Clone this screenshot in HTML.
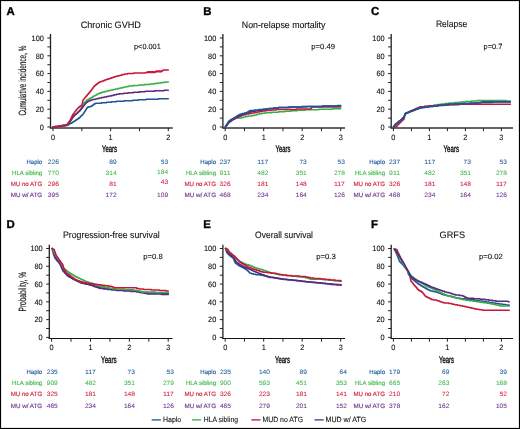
<!DOCTYPE html>
<html><head><meta charset="utf-8"><style>
html,body{margin:0;padding:0;background:#fff;}
svg{display:block;font-family:"Liberation Sans",sans-serif;will-change:transform;text-rendering:geometricPrecision;}
</style></head><body>
<svg width="520" height="429" viewBox="0 0 520 429">
<rect x="0" y="0" width="520" height="429" fill="#fff"/>
<line x1="50.5" y1="34" x2="50.5" y2="128.6" stroke="#222" stroke-width="1.3"/>
<line x1="50.0" y1="128" x2="172.7" y2="128" stroke="#333" stroke-width="1.3"/>
<line x1="47.4" y1="127.00" x2="50.5" y2="127.00" stroke="#222" stroke-width="1"/>
<text x="43.9" y="129.70" font-size="7.8" fill="#111" text-anchor="end" textLength="4.1" lengthAdjust="spacingAndGlyphs" stroke="#111" stroke-width="0.1">0</text>
<line x1="47.4" y1="118.10" x2="50.5" y2="118.10" stroke="#222" stroke-width="1"/>
<line x1="47.4" y1="109.20" x2="50.5" y2="109.20" stroke="#222" stroke-width="1"/>
<text x="43.9" y="111.90" font-size="7.8" fill="#111" text-anchor="end" textLength="8.2" lengthAdjust="spacingAndGlyphs" stroke="#111" stroke-width="0.1">20</text>
<line x1="47.4" y1="100.30" x2="50.5" y2="100.30" stroke="#222" stroke-width="1"/>
<line x1="47.4" y1="91.40" x2="50.5" y2="91.40" stroke="#222" stroke-width="1"/>
<text x="43.9" y="94.10" font-size="7.8" fill="#111" text-anchor="end" textLength="8.2" lengthAdjust="spacingAndGlyphs" stroke="#111" stroke-width="0.1">40</text>
<line x1="47.4" y1="82.50" x2="50.5" y2="82.50" stroke="#222" stroke-width="1"/>
<line x1="47.4" y1="73.60" x2="50.5" y2="73.60" stroke="#222" stroke-width="1"/>
<text x="43.9" y="76.30" font-size="7.8" fill="#111" text-anchor="end" textLength="8.2" lengthAdjust="spacingAndGlyphs" stroke="#111" stroke-width="0.1">60</text>
<line x1="47.4" y1="64.70" x2="50.5" y2="64.70" stroke="#222" stroke-width="1"/>
<line x1="47.4" y1="55.80" x2="50.5" y2="55.80" stroke="#222" stroke-width="1"/>
<text x="43.9" y="58.50" font-size="7.8" fill="#111" text-anchor="end" textLength="8.2" lengthAdjust="spacingAndGlyphs" stroke="#111" stroke-width="0.1">80</text>
<line x1="47.4" y1="46.90" x2="50.5" y2="46.90" stroke="#222" stroke-width="1"/>
<line x1="47.4" y1="38.00" x2="50.5" y2="38.00" stroke="#222" stroke-width="1"/>
<text x="43.9" y="40.70" font-size="7.8" fill="#111" text-anchor="end" textLength="12.3" lengthAdjust="spacingAndGlyphs" stroke="#111" stroke-width="0.1">100</text>
<line x1="53.00" y1="128" x2="53.00" y2="131.2" stroke="#222" stroke-width="1"/>
<line x1="81.83" y1="128" x2="81.83" y2="131.2" stroke="#222" stroke-width="1"/>
<line x1="110.65" y1="128" x2="110.65" y2="131.2" stroke="#222" stroke-width="1"/>
<line x1="139.47" y1="128" x2="139.47" y2="131.2" stroke="#222" stroke-width="1"/>
<line x1="168.30" y1="128" x2="168.30" y2="131.2" stroke="#222" stroke-width="1"/>
<text x="53.00" y="139.90" font-size="7.8" fill="#111" text-anchor="middle" textLength="4.1" lengthAdjust="spacingAndGlyphs" stroke="#111" stroke-width="0.1">0</text>
<text x="110.65" y="139.90" font-size="7.8" fill="#111" text-anchor="middle" textLength="4.1" lengthAdjust="spacingAndGlyphs" stroke="#111" stroke-width="0.1">1</text>
<text x="168.30" y="139.90" font-size="7.8" fill="#111" text-anchor="middle" textLength="4.1" lengthAdjust="spacingAndGlyphs" stroke="#111" stroke-width="0.1">2</text>
<text x="80.65" y="27.6" font-size="9.4" fill="#111" textLength="60.25" lengthAdjust="spacingAndGlyphs" stroke="#111" stroke-width="0.1">Chronic GVHD</text>
<text x="134" y="48.5" font-size="7.5" fill="#111" textLength="26.8" lengthAdjust="spacingAndGlyphs" stroke="#111" stroke-width="0.1">p&lt;0.001</text>
<text x="6.6" y="14.9" font-size="11.4" fill="#000" font-weight="bold" stroke="#000" stroke-width="0.35">A</text>
<text x="102" y="152.4" font-size="9.7" fill="#111" textLength="15" lengthAdjust="spacingAndGlyphs" stroke="#111" stroke-width="0.4">Years</text>
<polyline points="53.00,127.00 57.12,127.00 57.12,126.50 61.62,126.50 61.62,125.97 65.09,125.97 65.09,125.45 67.53,125.45 67.53,124.92 68.54,124.92 68.54,124.34 69.55,124.34 69.55,123.77 70.55,123.77 70.55,123.20 71.56,123.20 71.56,122.63 72.57,122.63 72.57,122.06 73.58,122.06 73.58,121.49 74.41,121.49 74.41,120.93 75.24,120.93 75.24,120.38 76.07,120.38 76.07,119.82 76.89,119.82 76.89,119.27 77.72,119.27 77.72,118.71 78.55,118.71 78.55,118.16 79.37,118.16 79.37,117.54 79.97,117.54 79.97,116.95 80.57,116.95 80.57,116.36 81.18,116.36 81.18,115.77 81.78,115.77 81.78,115.18 82.38,115.18 82.38,114.59 82.98,114.59 82.98,113.99 83.38,113.99 83.38,113.38 83.78,113.38 83.78,112.77 84.18,112.77 84.18,112.16 84.58,112.16 84.58,111.54 84.98,111.54 84.98,110.93 85.38,110.93 85.38,110.32 85.79,110.32 85.79,109.71 86.19,109.71 86.19,109.09 86.59,109.09 86.59,108.48 86.99,108.48 86.99,107.87 87.39,107.87 87.39,107.25 88.59,107.25 88.59,106.71 90.79,106.71 90.79,106.20 92.00,106.20 92.00,105.59 92.81,105.59 92.81,104.98 93.61,104.98 93.61,104.37 94.42,104.37 94.42,103.75 95.64,103.75 95.64,103.24 101.39,103.24 101.39,102.72 106.43,102.72 106.43,102.21 111.45,102.21 111.45,101.69 116.48,101.69 116.48,101.17 124.18,101.17 124.18,100.67 132.67,100.67 132.67,100.16 138.27,100.16 138.27,99.65 145.95,99.65 145.95,99.14 158.45,99.14 158.45,98.64 168.30,98.64" fill="none" stroke="#1c5794" stroke-width="1.5" stroke-linejoin="round" stroke-linecap="round"/>
<polyline points="53.00,127.00 55.06,127.00 55.06,126.50 59.17,126.50 59.17,125.98 62.64,125.98 62.64,125.46 66.10,125.46 66.10,124.94 67.55,124.94 67.55,124.28 67.98,124.28 67.98,123.77 68.40,123.77 68.40,123.26 68.83,123.26 68.83,122.76 69.25,122.76 69.25,122.25 69.68,122.25 69.68,121.74 70.10,121.74 70.10,121.17 70.51,121.17 70.51,120.55 70.92,120.55 70.92,119.93 71.33,119.93 71.33,119.30 71.74,119.30 71.74,118.68 72.15,118.68 72.15,118.05 72.56,118.05 72.56,117.43 72.97,117.43 72.97,116.80 73.38,116.80 73.38,116.18 74.00,116.18 74.00,115.50 74.62,115.50 74.62,114.94 75.24,114.94 75.24,114.39 75.86,114.39 75.86,113.83 76.48,113.83 76.48,113.28 77.10,113.28 77.10,112.72 77.72,112.72 77.72,112.17 78.34,112.17 78.34,111.61 78.97,111.61 78.97,111.06 79.58,111.06 79.58,110.30 79.99,110.30 79.99,109.72 80.40,109.72 80.40,109.14 80.81,109.14 80.81,108.57 81.21,108.57 81.21,107.99 81.62,107.99 81.62,107.41 82.06,107.41 82.06,106.45 82.29,106.45 82.29,105.77 82.52,105.77 82.52,105.09 82.75,105.09 82.75,104.41 82.98,104.41 82.98,103.74 83.60,103.74 83.60,103.13 84.23,103.13 84.23,102.52 84.85,102.52 84.85,101.91 85.48,101.91 85.48,101.30 86.10,101.30 86.10,100.69 86.73,100.69 86.73,100.08 87.74,100.08 87.74,99.50 88.75,99.50 88.75,98.93 89.76,98.93 89.76,98.35 90.77,98.35 90.77,97.77 91.79,97.77 91.79,97.20 92.80,97.20 92.80,96.62 93.81,96.62 93.81,96.04 94.82,96.04 94.82,95.47 95.85,95.47 95.85,94.89 96.87,94.89 96.87,94.31 97.89,94.31 97.89,93.73 98.92,93.73 98.92,93.15 100.72,93.15 100.72,92.62 102.72,92.62 102.72,92.11 104.72,92.11 104.72,91.61 106.72,91.61 106.72,91.10 108.72,91.10 108.72,90.59 110.96,90.59 110.96,90.08 113.19,90.08 113.19,89.58 115.43,89.58 115.43,89.08 117.67,89.08 117.67,88.58 119.91,88.58 119.91,88.07 122.15,88.07 122.15,87.55 124.38,87.55 124.38,87.04 126.62,87.04 126.62,86.52 128.86,86.52 128.86,86.00 133.10,86.00 133.10,85.49 138.73,85.49 138.73,84.97 144.36,84.97 144.36,84.46 150.00,84.46 150.00,83.94 154.02,83.94 154.02,83.42 157.64,83.42 157.64,82.92 161.26,82.92 161.26,82.42 164.88,82.42 164.88,81.91 168.30,81.91" fill="none" stroke="#36ad47" stroke-width="1.5" stroke-linejoin="round" stroke-linecap="round"/>
<polyline points="53.00,127.00 55.06,127.00 55.06,126.50 59.17,126.50 59.17,125.98 62.64,125.98 62.64,125.46 66.10,125.46 66.10,124.94 67.55,124.94 67.55,124.28 67.98,124.28 67.98,123.77 68.40,123.77 68.40,123.26 68.83,123.26 68.83,122.76 69.25,122.76 69.25,122.25 69.68,122.25 69.68,121.74 70.10,121.74 70.10,121.17 70.51,121.17 70.51,120.55 70.92,120.55 70.92,119.93 71.33,119.93 71.33,119.30 71.74,119.30 71.74,118.68 72.15,118.68 72.15,118.05 72.56,118.05 72.56,117.43 72.97,117.43 72.97,116.80 73.38,116.80 73.38,116.18 74.00,116.18 74.00,115.52 74.62,115.52 74.62,114.99 75.24,114.99 75.24,114.47 75.86,114.47 75.86,113.94 76.48,113.94 76.48,113.42 77.10,113.42 77.10,112.89 77.72,112.89 77.72,112.37 78.34,112.37 78.34,111.84 78.97,111.84 78.97,111.32 79.57,111.32 79.57,110.66 80.17,110.66 80.17,109.94 80.78,109.94 80.78,109.22 81.38,109.22 81.38,108.51 81.98,108.51 81.98,107.79 82.58,107.79 82.58,107.07 83.19,107.07 83.19,106.33 83.60,106.33 83.60,105.80 84.02,105.80 84.02,105.28 84.44,105.28 84.44,104.75 84.85,104.75 84.85,104.23 85.27,104.23 85.27,103.70 85.68,103.70 85.68,103.18 86.10,103.18 86.10,102.65 86.52,102.65 86.52,102.13 87.35,102.13 87.35,101.61 88.59,101.61 88.59,101.09 89.83,101.09 89.83,100.57 91.07,100.57 91.07,100.06 92.32,100.06 92.32,99.54 95.03,99.54 95.03,99.01 97.07,99.01 97.07,98.47 99.12,98.47 99.12,97.94 101.55,97.94 101.55,97.43 103.97,97.43 103.97,96.92 106.40,96.92 106.40,96.42 108.83,96.42 108.83,95.91 111.25,95.91 111.25,95.41 113.87,95.41 113.87,94.87 116.48,94.87 116.48,94.33 119.10,94.33 119.10,93.79 123.57,93.79 123.57,93.27 128.05,93.27 128.05,92.77 133.52,92.77 133.52,92.26 139.38,92.26 139.38,91.75 145.24,91.75 145.24,91.25 154.66,91.25 154.66,90.74 164.09,90.74 164.09,90.23 168.30,90.23" fill="none" stroke="#5f2781" stroke-width="1.5" stroke-linejoin="round" stroke-linecap="round"/>
<polyline points="53.00,127.00 55.43,127.00 55.43,126.49 58.14,126.49 58.14,125.98 60.80,125.98 60.80,125.47 63.45,125.47 63.45,124.96 66.10,124.96 66.10,124.45 67.55,124.45 67.55,123.68 67.98,123.68 67.98,123.10 68.40,123.10 68.40,122.52 68.83,122.52 68.83,121.95 69.25,121.95 69.25,121.37 69.68,121.37 69.68,120.79 70.09,120.79 70.09,120.07 70.50,120.07 70.50,119.21 70.90,119.21 70.90,118.34 71.30,118.34 71.30,117.47 71.71,117.47 71.71,116.61 72.11,116.61 72.11,115.74 72.51,115.74 72.51,114.87 72.92,114.87 72.92,114.18 73.34,114.18 73.34,113.67 73.75,113.67 73.75,113.15 74.17,113.15 74.17,112.64 74.58,112.64 74.58,112.12 74.99,112.12 74.99,111.61 75.41,111.61 75.41,111.09 75.82,111.09 75.82,110.58 76.24,110.58 76.24,110.06 76.65,110.06 76.65,109.54 77.07,109.54 77.07,109.03 77.48,109.03 77.48,108.51 77.89,108.51 77.89,108.00 78.31,108.00 78.31,107.48 79.13,107.48 79.13,106.85 79.95,106.85 79.95,106.21 80.77,106.21 80.77,105.58 81.59,105.58 81.59,104.95 82.24,104.95 82.24,103.49 82.49,103.49 82.49,102.35 82.73,102.35 82.73,101.22 82.98,101.22 82.98,100.08 83.39,100.08 83.39,99.55 83.81,99.55 83.81,99.03 84.23,99.03 84.23,98.50 84.64,98.50 84.64,97.98 85.06,97.98 85.06,97.45 85.48,97.45 85.48,96.93 85.89,96.93 85.89,96.40 86.31,96.40 86.31,95.88 86.73,95.88 86.73,95.35 87.33,95.35 87.33,94.62 87.94,94.62 87.94,93.89 88.55,93.89 88.55,93.15 89.16,93.15 89.16,92.42 89.77,92.42 89.77,91.69 90.38,91.69 90.38,90.95 90.99,90.95 90.99,90.22 91.60,90.22 91.60,89.46 92.02,89.46 92.02,88.93 92.43,88.93 92.43,88.39 92.85,88.39 92.85,87.86 93.26,87.86 93.26,87.32 93.68,87.32 93.68,86.79 94.09,86.79 94.09,86.25 94.51,86.25 94.51,85.72 95.31,85.72 95.31,85.10 96.11,85.10 96.11,84.48 96.91,84.48 96.91,83.86 97.72,83.86 97.72,83.24 98.52,83.24 98.52,82.62 99.33,82.62 99.33,82.07 100.77,82.07 100.77,81.51 102.21,81.51 102.21,80.96 103.65,80.96 103.65,80.40 105.09,80.40 105.09,79.86 106.74,79.86 106.74,79.35 108.39,79.35 108.39,78.84 110.03,78.84 110.03,78.33 111.45,78.33 111.45,77.83 112.86,77.83 112.86,77.28 114.26,77.28 114.26,76.74 115.87,76.74 115.87,76.19 117.91,76.19 117.91,75.67 119.94,75.67 119.94,75.15 121.98,75.15 121.98,74.62 124.81,74.62 124.81,74.10 127.65,74.10 127.65,73.59 133.67,73.59 133.67,73.08 145.48,73.08 145.48,72.58 147.37,72.58 147.37,72.07 147.57,72.07 147.57,72.57 147.78,72.57 147.78,72.07 147.98,72.07 147.98,72.57 148.18,72.57 148.18,72.07 148.38,72.07 148.38,72.57 148.58,72.57 148.58,72.07 148.78,72.07 148.78,72.57 148.98,72.57 148.98,72.07 149.18,72.07 149.18,72.57 149.38,72.57 149.38,72.07 149.58,72.07 149.58,72.57 149.79,72.57 149.79,72.07 149.99,72.07 149.99,72.57 150.19,72.57 150.19,72.07 150.39,72.07 150.39,72.57 150.59,72.57 150.59,72.07 150.79,72.07 150.79,72.57 150.99,72.57 150.99,72.07 151.19,72.07 151.19,72.57 151.39,72.57 151.39,72.07 151.59,72.07 151.59,72.57 151.79,72.57 151.79,72.07 152.00,72.07 152.00,72.57 152.20,72.57 152.20,72.07 152.40,72.07 152.40,72.57 152.60,72.57 152.60,72.07 152.80,72.07 152.80,72.57 153.00,72.57 153.00,72.07 153.20,72.07 153.20,72.57 153.40,72.57 153.40,72.07 153.60,72.07 153.60,72.57 153.80,72.57 153.80,72.07 154.01,72.07 154.01,72.57 154.21,72.57 154.21,72.07 154.41,72.07 154.41,72.57 154.61,72.57 154.61,72.07 154.81,72.07 154.81,72.57 155.05,72.57 155.05,71.89 155.79,71.89 155.79,71.36 155.99,71.36 155.99,71.86 156.20,71.86 156.20,71.36 156.40,71.36 156.40,71.86 156.61,71.86 156.61,71.36 156.81,71.36 156.81,71.86 157.01,71.86 157.01,71.36 157.22,71.36 157.22,71.86 157.42,71.86 157.42,71.36 157.62,71.36 157.62,71.86 157.83,71.86 157.83,71.36 158.03,71.36 158.03,71.86 158.24,71.86 158.24,71.36 158.44,71.36 158.44,71.86 158.64,71.86 158.64,71.36 158.85,71.36 158.85,71.86 159.05,71.86 159.05,71.36 159.26,71.36 159.26,71.86 159.46,71.86 159.46,71.36 159.66,71.36 159.66,71.86 159.87,71.86 159.87,71.36 160.07,71.36 160.07,71.86 160.27,71.86 160.27,71.36 160.48,71.36 160.48,71.86 160.68,71.86 160.68,71.36 160.89,71.36 160.89,71.86 161.09,71.86 161.09,71.36 161.29,71.36 161.29,71.86 161.50,71.86 161.50,71.36 162.19,71.36 162.19,70.73 162.88,70.73 162.88,70.11 168.30,70.11" fill="none" stroke="#c9173a" stroke-width="1.5" stroke-linejoin="round" stroke-linecap="round"/>
<text x="42.2" y="163.6" font-size="6.2" fill="#24609e" text-anchor="end" textLength="15.7" lengthAdjust="spacingAndGlyphs" stroke="#24609e" stroke-width="0.15">Haplo</text>
<text x="58.9" y="163.60" font-size="6.3" fill="#24609e" text-anchor="end" textLength="11.1" lengthAdjust="spacingAndGlyphs" stroke="#24609e" stroke-width="0.05">226</text>
<text x="116.6" y="163.60" font-size="6.3" fill="#24609e" text-anchor="end" textLength="7.4" lengthAdjust="spacingAndGlyphs" stroke="#24609e" stroke-width="0.05">89</text>
<text x="168.2" y="163.60" font-size="6.3" fill="#24609e" text-anchor="end" textLength="7.4" lengthAdjust="spacingAndGlyphs" stroke="#24609e" stroke-width="0.05">53</text>
<text x="42.2" y="174.9" font-size="6.2" fill="#43b84f" text-anchor="end" textLength="30.1" lengthAdjust="spacingAndGlyphs" stroke="#43b84f" stroke-width="0.15">HLA sibling</text>
<text x="58.9" y="174.90" font-size="6.3" fill="#43b84f" text-anchor="end" textLength="11.1" lengthAdjust="spacingAndGlyphs" stroke="#43b84f" stroke-width="0.05">770</text>
<text x="116.6" y="174.90" font-size="6.3" fill="#43b84f" text-anchor="end" textLength="11.1" lengthAdjust="spacingAndGlyphs" stroke="#43b84f" stroke-width="0.05">314</text>
<text x="168.2" y="174.30" font-size="6.3" fill="#43b84f" text-anchor="end" textLength="11.1" lengthAdjust="spacingAndGlyphs" stroke="#43b84f" stroke-width="0.05">184</text>
<text x="42.2" y="186.2" font-size="6.2" fill="#cf1f3d" text-anchor="end" textLength="31.5" lengthAdjust="spacingAndGlyphs" stroke="#cf1f3d" stroke-width="0.15">MU no ATG</text>
<text x="58.9" y="186.20" font-size="6.3" fill="#cf1f3d" text-anchor="end" textLength="11.1" lengthAdjust="spacingAndGlyphs" stroke="#cf1f3d" stroke-width="0.05">296</text>
<text x="116.6" y="186.20" font-size="6.3" fill="#cf1f3d" text-anchor="end" textLength="7.4" lengthAdjust="spacingAndGlyphs" stroke="#cf1f3d" stroke-width="0.05">81</text>
<text x="168.2" y="183.60" font-size="6.3" fill="#cf1f3d" text-anchor="end" textLength="7.4" lengthAdjust="spacingAndGlyphs" stroke="#cf1f3d" stroke-width="0.05">43</text>
<text x="42.2" y="197.3" font-size="6.2" fill="#6b3388" text-anchor="end" textLength="31.5" lengthAdjust="spacingAndGlyphs" stroke="#6b3388" stroke-width="0.15">MU w/ ATG</text>
<text x="58.9" y="197.30" font-size="6.3" fill="#6b3388" text-anchor="end" textLength="11.1" lengthAdjust="spacingAndGlyphs" stroke="#6b3388" stroke-width="0.05">395</text>
<text x="116.6" y="197.30" font-size="6.3" fill="#6b3388" text-anchor="end" textLength="11.1" lengthAdjust="spacingAndGlyphs" stroke="#6b3388" stroke-width="0.05">172</text>
<text x="168.2" y="197.30" font-size="6.3" fill="#6b3388" text-anchor="end" textLength="11.1" lengthAdjust="spacingAndGlyphs" stroke="#6b3388" stroke-width="0.05">109</text>
<line x1="222.9" y1="34" x2="222.9" y2="128.6" stroke="#222" stroke-width="1.3"/>
<line x1="222.4" y1="128" x2="345" y2="128" stroke="#333" stroke-width="1.3"/>
<line x1="219.8" y1="127.00" x2="222.9" y2="127.00" stroke="#222" stroke-width="1"/>
<text x="216.3" y="129.70" font-size="7.8" fill="#111" text-anchor="end" textLength="4.1" lengthAdjust="spacingAndGlyphs" stroke="#111" stroke-width="0.1">0</text>
<line x1="219.8" y1="118.10" x2="222.9" y2="118.10" stroke="#222" stroke-width="1"/>
<line x1="219.8" y1="109.20" x2="222.9" y2="109.20" stroke="#222" stroke-width="1"/>
<text x="216.3" y="111.90" font-size="7.8" fill="#111" text-anchor="end" textLength="8.2" lengthAdjust="spacingAndGlyphs" stroke="#111" stroke-width="0.1">20</text>
<line x1="219.8" y1="100.30" x2="222.9" y2="100.30" stroke="#222" stroke-width="1"/>
<line x1="219.8" y1="91.40" x2="222.9" y2="91.40" stroke="#222" stroke-width="1"/>
<text x="216.3" y="94.10" font-size="7.8" fill="#111" text-anchor="end" textLength="8.2" lengthAdjust="spacingAndGlyphs" stroke="#111" stroke-width="0.1">40</text>
<line x1="219.8" y1="82.50" x2="222.9" y2="82.50" stroke="#222" stroke-width="1"/>
<line x1="219.8" y1="73.60" x2="222.9" y2="73.60" stroke="#222" stroke-width="1"/>
<text x="216.3" y="76.30" font-size="7.8" fill="#111" text-anchor="end" textLength="8.2" lengthAdjust="spacingAndGlyphs" stroke="#111" stroke-width="0.1">60</text>
<line x1="219.8" y1="64.70" x2="222.9" y2="64.70" stroke="#222" stroke-width="1"/>
<line x1="219.8" y1="55.80" x2="222.9" y2="55.80" stroke="#222" stroke-width="1"/>
<text x="216.3" y="58.50" font-size="7.8" fill="#111" text-anchor="end" textLength="8.2" lengthAdjust="spacingAndGlyphs" stroke="#111" stroke-width="0.1">80</text>
<line x1="219.8" y1="46.90" x2="222.9" y2="46.90" stroke="#222" stroke-width="1"/>
<line x1="219.8" y1="38.00" x2="222.9" y2="38.00" stroke="#222" stroke-width="1"/>
<text x="216.3" y="40.70" font-size="7.8" fill="#111" text-anchor="end" textLength="12.3" lengthAdjust="spacingAndGlyphs" stroke="#111" stroke-width="0.1">100</text>
<line x1="225.20" y1="128" x2="225.20" y2="131.2" stroke="#222" stroke-width="1"/>
<line x1="244.45" y1="128" x2="244.45" y2="131.2" stroke="#222" stroke-width="1"/>
<line x1="263.70" y1="128" x2="263.70" y2="131.2" stroke="#222" stroke-width="1"/>
<line x1="282.95" y1="128" x2="282.95" y2="131.2" stroke="#222" stroke-width="1"/>
<line x1="302.20" y1="128" x2="302.20" y2="131.2" stroke="#222" stroke-width="1"/>
<line x1="321.45" y1="128" x2="321.45" y2="131.2" stroke="#222" stroke-width="1"/>
<line x1="340.70" y1="128" x2="340.70" y2="131.2" stroke="#222" stroke-width="1"/>
<text x="225.20" y="139.90" font-size="7.8" fill="#111" text-anchor="middle" textLength="4.1" lengthAdjust="spacingAndGlyphs" stroke="#111" stroke-width="0.1">0</text>
<text x="263.70" y="139.90" font-size="7.8" fill="#111" text-anchor="middle" textLength="4.1" lengthAdjust="spacingAndGlyphs" stroke="#111" stroke-width="0.1">1</text>
<text x="302.20" y="139.90" font-size="7.8" fill="#111" text-anchor="middle" textLength="4.1" lengthAdjust="spacingAndGlyphs" stroke="#111" stroke-width="0.1">2</text>
<text x="340.70" y="139.90" font-size="7.8" fill="#111" text-anchor="middle" textLength="4.1" lengthAdjust="spacingAndGlyphs" stroke="#111" stroke-width="0.1">3</text>
<text x="241.8" y="27.6" font-size="9.4" fill="#111" textLength="83.6" lengthAdjust="spacingAndGlyphs" stroke="#111" stroke-width="0.1">Non-relapse mortality</text>
<text x="311.2" y="48.5" font-size="7.5" fill="#111" textLength="23.8" lengthAdjust="spacingAndGlyphs" stroke="#111" stroke-width="0.1">p=0.49</text>
<text x="203.3" y="14.9" font-size="11.4" fill="#000" font-weight="bold" stroke="#000" stroke-width="0.35">B</text>
<text x="275.6" y="152.4" font-size="9.7" fill="#111" textLength="14.8" lengthAdjust="spacingAndGlyphs" stroke="#111" stroke-width="0.4">Years</text>
<polyline points="225.20,127.00 225.63,127.00 225.63,126.25 226.27,126.25 226.27,125.51 226.91,125.51 226.91,124.77 227.33,124.77 227.33,124.25 227.75,124.25 227.75,123.72 228.17,123.72 228.17,123.18 228.59,123.18 228.59,122.65 229.01,122.65 229.01,122.11 229.84,122.11 229.84,121.52 230.66,121.52 230.66,120.94 231.48,120.94 231.48,120.35 232.31,120.35 232.31,119.76 233.33,119.76 233.33,119.22 234.55,119.22 234.55,118.62 235.78,118.62 235.78,118.02 241.48,118.02 241.48,117.50 243.73,117.50 243.73,116.95 245.36,116.95 245.36,116.45 248.03,116.45 248.03,115.93 252.15,115.93 252.15,115.42 254.58,115.42 254.58,114.88 257.01,114.88 257.01,114.33 259.44,114.33 259.44,113.79 261.88,113.79 261.88,113.24 265.11,113.24 265.11,112.73 271.78,112.73 271.78,112.23 278.44,112.23 278.44,111.72 284.89,111.72 284.89,111.21 291.13,111.21 291.13,110.70 297.37,110.70 297.37,110.19 305.21,110.19 305.21,109.69 318.84,109.69 318.84,109.19 332.48,109.19 332.48,108.68 340.70,108.68" fill="none" stroke="#36ad47" stroke-width="1.5" stroke-linejoin="round" stroke-linecap="round"/>
<polyline points="225.20,127.00 225.63,127.00 225.63,126.25 226.27,126.25 226.27,125.51 226.91,125.51 226.91,124.77 227.33,124.77 227.33,124.25 227.75,124.25 227.75,123.72 228.17,123.72 228.17,123.18 228.59,123.18 228.59,122.65 229.01,122.65 229.01,122.11 229.84,122.11 229.84,121.52 230.66,121.52 230.66,120.94 231.48,120.94 231.48,120.35 232.31,120.35 232.31,119.76 233.33,119.76 233.33,119.22 234.55,119.22 234.55,118.62 235.78,118.62 235.78,118.02 237.00,118.02 237.00,117.42 238.22,117.42 238.22,116.82 239.44,116.82 239.44,116.22 240.67,116.22 240.67,115.69 241.89,115.69 241.89,115.15 243.31,115.15 243.31,114.63 246.12,114.63 246.12,114.12 248.94,114.12 248.94,113.60 251.75,113.60 251.75,113.09 254.38,113.09 254.38,112.57 257.01,112.57 257.01,112.04 259.65,112.04 259.65,111.51 262.28,111.51 262.28,110.98 265.92,110.98 265.92,110.47 270.97,110.47 270.97,109.95 276.02,109.95 276.02,109.43 296.56,109.43 296.56,108.93 310.90,108.93 310.90,108.37 311.36,108.37 311.36,107.66 311.82,107.66 311.82,106.95 340.70,106.95" fill="none" stroke="#c9173a" stroke-width="1.5" stroke-linejoin="round" stroke-linecap="round"/>
<polyline points="225.20,127.00 225.41,127.00 225.41,126.45 225.84,126.45 225.84,125.86 226.27,125.86 226.27,125.26 226.70,125.26 226.70,124.67 227.12,124.67 227.12,124.07 227.54,124.07 227.54,123.48 227.96,123.48 227.96,122.88 228.38,122.88 228.38,122.29 228.80,122.29 228.80,121.70 229.42,121.70 229.42,121.10 230.25,121.10 230.25,120.52 231.07,120.52 231.07,119.93 231.90,119.93 231.90,119.34 232.72,119.34 232.72,118.80 233.74,118.80 233.74,118.27 234.76,118.27 234.76,117.75 235.78,117.75 235.78,117.22 237.00,117.22 237.00,116.63 238.22,116.63 238.22,116.05 239.44,116.05 239.44,115.47 240.67,115.47 240.67,114.88 241.89,114.88 241.89,114.30 243.11,114.30 243.11,113.76 244.92,113.76 244.92,113.23 246.73,113.23 246.73,112.71 248.53,112.71 248.53,112.19 250.34,112.19 250.34,111.66 252.15,111.66 252.15,111.14 255.39,111.14 255.39,110.64 258.63,110.64 258.63,110.14 261.88,110.14 261.88,109.64 265.72,109.64 265.72,109.12 269.96,109.12 269.96,108.61 274.20,108.61 274.20,108.11 278.44,108.11 278.44,107.61 288.11,107.61 288.11,107.11 301.80,107.11 301.80,106.61 323.25,106.61 323.25,106.10 340.70,106.10" fill="none" stroke="#5f2781" stroke-width="1.5" stroke-linejoin="round" stroke-linecap="round"/>
<polyline points="225.20,127.00 225.51,127.00 225.51,126.35 225.91,126.35 225.91,125.67 226.32,125.67 226.32,124.99 226.72,124.99 226.72,124.31 227.12,124.31 227.12,123.63 227.54,123.63 227.54,122.99 227.96,122.99 227.96,122.36 228.38,122.36 228.38,121.73 228.80,121.73 228.80,121.09 229.42,121.09 229.42,120.52 230.25,120.52 230.25,120.02 231.07,120.02 231.07,119.51 231.90,119.51 231.90,119.01 232.92,119.01 232.92,118.39 233.94,118.39 233.94,117.79 234.96,117.79 234.96,117.18 235.98,117.18 235.98,116.58 236.80,116.58 236.80,116.08 237.61,116.08 237.61,115.57 238.43,115.57 238.43,115.07 239.24,115.07 239.24,114.57 240.67,114.57 240.67,114.06 242.30,114.06 242.30,113.56 244.54,113.56 244.54,113.03 246.58,113.03 246.58,112.53 247.39,112.53 247.39,112.03 248.21,112.03 248.21,111.52 249.02,111.52 249.02,111.02 249.84,111.02 249.84,110.52 254.18,110.52 254.18,110.01 258.63,110.01 258.63,109.50 263.09,109.50 263.09,108.98 268.14,108.98 268.14,108.48 273.39,108.48 273.39,107.97 278.64,107.97 278.64,107.46 290.93,107.46 290.93,106.96 306.41,106.96 306.41,106.45 321.85,106.45 321.85,105.95 337.29,105.95 337.29,105.45 340.70,105.45" fill="none" stroke="#1c5794" stroke-width="1.5" stroke-linejoin="round" stroke-linecap="round"/>
<text x="216" y="163.6" font-size="6.2" fill="#24609e" text-anchor="end" textLength="15.7" lengthAdjust="spacingAndGlyphs" stroke="#24609e" stroke-width="0.15">Haplo</text>
<text x="230.6" y="163.60" font-size="6.3" fill="#24609e" text-anchor="end" textLength="11.1" lengthAdjust="spacingAndGlyphs" stroke="#24609e" stroke-width="0.05">237</text>
<text x="268.4" y="163.60" font-size="6.3" fill="#24609e" text-anchor="end" textLength="11.1" lengthAdjust="spacingAndGlyphs" stroke="#24609e" stroke-width="0.05">117</text>
<text x="306.8" y="163.60" font-size="6.3" fill="#24609e" text-anchor="end" textLength="7.4" lengthAdjust="spacingAndGlyphs" stroke="#24609e" stroke-width="0.05">73</text>
<text x="345" y="163.60" font-size="6.3" fill="#24609e" text-anchor="end" textLength="7.4" lengthAdjust="spacingAndGlyphs" stroke="#24609e" stroke-width="0.05">53</text>
<text x="216" y="174.9" font-size="6.2" fill="#43b84f" text-anchor="end" textLength="30.1" lengthAdjust="spacingAndGlyphs" stroke="#43b84f" stroke-width="0.15">HLA sibling</text>
<text x="230.6" y="174.90" font-size="6.3" fill="#43b84f" text-anchor="end" textLength="11.1" lengthAdjust="spacingAndGlyphs" stroke="#43b84f" stroke-width="0.05">911</text>
<text x="268.4" y="174.90" font-size="6.3" fill="#43b84f" text-anchor="end" textLength="11.1" lengthAdjust="spacingAndGlyphs" stroke="#43b84f" stroke-width="0.05">482</text>
<text x="306.8" y="174.90" font-size="6.3" fill="#43b84f" text-anchor="end" textLength="11.1" lengthAdjust="spacingAndGlyphs" stroke="#43b84f" stroke-width="0.05">351</text>
<text x="345" y="174.90" font-size="6.3" fill="#43b84f" text-anchor="end" textLength="11.1" lengthAdjust="spacingAndGlyphs" stroke="#43b84f" stroke-width="0.05">278</text>
<text x="216" y="186.2" font-size="6.2" fill="#cf1f3d" text-anchor="end" textLength="31.5" lengthAdjust="spacingAndGlyphs" stroke="#cf1f3d" stroke-width="0.15">MU no ATG</text>
<text x="230.6" y="186.20" font-size="6.3" fill="#cf1f3d" text-anchor="end" textLength="11.1" lengthAdjust="spacingAndGlyphs" stroke="#cf1f3d" stroke-width="0.05">326</text>
<text x="268.4" y="186.20" font-size="6.3" fill="#cf1f3d" text-anchor="end" textLength="11.1" lengthAdjust="spacingAndGlyphs" stroke="#cf1f3d" stroke-width="0.05">181</text>
<text x="306.8" y="186.20" font-size="6.3" fill="#cf1f3d" text-anchor="end" textLength="11.1" lengthAdjust="spacingAndGlyphs" stroke="#cf1f3d" stroke-width="0.05">148</text>
<text x="345" y="186.20" font-size="6.3" fill="#cf1f3d" text-anchor="end" textLength="11.1" lengthAdjust="spacingAndGlyphs" stroke="#cf1f3d" stroke-width="0.05">117</text>
<text x="216" y="197.3" font-size="6.2" fill="#6b3388" text-anchor="end" textLength="31.5" lengthAdjust="spacingAndGlyphs" stroke="#6b3388" stroke-width="0.15">MU w/ ATG</text>
<text x="230.6" y="197.30" font-size="6.3" fill="#6b3388" text-anchor="end" textLength="11.1" lengthAdjust="spacingAndGlyphs" stroke="#6b3388" stroke-width="0.05">468</text>
<text x="268.4" y="197.30" font-size="6.3" fill="#6b3388" text-anchor="end" textLength="11.1" lengthAdjust="spacingAndGlyphs" stroke="#6b3388" stroke-width="0.05">234</text>
<text x="306.8" y="197.30" font-size="6.3" fill="#6b3388" text-anchor="end" textLength="11.1" lengthAdjust="spacingAndGlyphs" stroke="#6b3388" stroke-width="0.05">164</text>
<text x="345" y="197.30" font-size="6.3" fill="#6b3388" text-anchor="end" textLength="11.1" lengthAdjust="spacingAndGlyphs" stroke="#6b3388" stroke-width="0.05">126</text>
<line x1="391.2" y1="34" x2="391.2" y2="128.6" stroke="#222" stroke-width="1.3"/>
<line x1="390.7" y1="128" x2="513" y2="128" stroke="#333" stroke-width="1.3"/>
<line x1="388.09999999999997" y1="127.00" x2="391.2" y2="127.00" stroke="#222" stroke-width="1"/>
<text x="384.59999999999997" y="129.70" font-size="7.8" fill="#111" text-anchor="end" textLength="4.1" lengthAdjust="spacingAndGlyphs" stroke="#111" stroke-width="0.1">0</text>
<line x1="388.09999999999997" y1="118.10" x2="391.2" y2="118.10" stroke="#222" stroke-width="1"/>
<line x1="388.09999999999997" y1="109.20" x2="391.2" y2="109.20" stroke="#222" stroke-width="1"/>
<text x="384.59999999999997" y="111.90" font-size="7.8" fill="#111" text-anchor="end" textLength="8.2" lengthAdjust="spacingAndGlyphs" stroke="#111" stroke-width="0.1">20</text>
<line x1="388.09999999999997" y1="100.30" x2="391.2" y2="100.30" stroke="#222" stroke-width="1"/>
<line x1="388.09999999999997" y1="91.40" x2="391.2" y2="91.40" stroke="#222" stroke-width="1"/>
<text x="384.59999999999997" y="94.10" font-size="7.8" fill="#111" text-anchor="end" textLength="8.2" lengthAdjust="spacingAndGlyphs" stroke="#111" stroke-width="0.1">40</text>
<line x1="388.09999999999997" y1="82.50" x2="391.2" y2="82.50" stroke="#222" stroke-width="1"/>
<line x1="388.09999999999997" y1="73.60" x2="391.2" y2="73.60" stroke="#222" stroke-width="1"/>
<text x="384.59999999999997" y="76.30" font-size="7.8" fill="#111" text-anchor="end" textLength="8.2" lengthAdjust="spacingAndGlyphs" stroke="#111" stroke-width="0.1">60</text>
<line x1="388.09999999999997" y1="64.70" x2="391.2" y2="64.70" stroke="#222" stroke-width="1"/>
<line x1="388.09999999999997" y1="55.80" x2="391.2" y2="55.80" stroke="#222" stroke-width="1"/>
<text x="384.59999999999997" y="58.50" font-size="7.8" fill="#111" text-anchor="end" textLength="8.2" lengthAdjust="spacingAndGlyphs" stroke="#111" stroke-width="0.1">80</text>
<line x1="388.09999999999997" y1="46.90" x2="391.2" y2="46.90" stroke="#222" stroke-width="1"/>
<line x1="388.09999999999997" y1="38.00" x2="391.2" y2="38.00" stroke="#222" stroke-width="1"/>
<text x="384.59999999999997" y="40.70" font-size="7.8" fill="#111" text-anchor="end" textLength="12.3" lengthAdjust="spacingAndGlyphs" stroke="#111" stroke-width="0.1">100</text>
<line x1="393.40" y1="128" x2="393.40" y2="131.2" stroke="#222" stroke-width="1"/>
<line x1="411.40" y1="128" x2="411.40" y2="131.2" stroke="#222" stroke-width="1"/>
<line x1="429.40" y1="128" x2="429.40" y2="131.2" stroke="#222" stroke-width="1"/>
<line x1="447.40" y1="128" x2="447.40" y2="131.2" stroke="#222" stroke-width="1"/>
<line x1="465.40" y1="128" x2="465.40" y2="131.2" stroke="#222" stroke-width="1"/>
<line x1="483.40" y1="128" x2="483.40" y2="131.2" stroke="#222" stroke-width="1"/>
<line x1="501.40" y1="128" x2="501.40" y2="131.2" stroke="#222" stroke-width="1"/>
<text x="393.40" y="139.90" font-size="7.8" fill="#111" text-anchor="middle" textLength="4.1" lengthAdjust="spacingAndGlyphs" stroke="#111" stroke-width="0.1">0</text>
<text x="429.40" y="139.90" font-size="7.8" fill="#111" text-anchor="middle" textLength="4.1" lengthAdjust="spacingAndGlyphs" stroke="#111" stroke-width="0.1">1</text>
<text x="465.40" y="139.90" font-size="7.8" fill="#111" text-anchor="middle" textLength="4.1" lengthAdjust="spacingAndGlyphs" stroke="#111" stroke-width="0.1">2</text>
<text x="501.40" y="139.90" font-size="7.8" fill="#111" text-anchor="middle" textLength="4.1" lengthAdjust="spacingAndGlyphs" stroke="#111" stroke-width="0.1">3</text>
<text x="435.9" y="27.400000000000002" font-size="9.4" fill="#111" textLength="31.4" lengthAdjust="spacingAndGlyphs" stroke="#111" stroke-width="0.1">Relapse</text>
<text x="483.5" y="48.5" font-size="7.5" fill="#111" textLength="18.8" lengthAdjust="spacingAndGlyphs" stroke="#111" stroke-width="0.1">p=0.7</text>
<text x="371" y="14.9" font-size="11.4" fill="#000" font-weight="bold" stroke="#000" stroke-width="0.35">C</text>
<text x="443.6" y="152.4" font-size="9.7" fill="#111" textLength="15.4" lengthAdjust="spacingAndGlyphs" stroke="#111" stroke-width="0.4">Years</text>
<polyline points="393.40,127.00 393.98,127.00 393.98,126.32 394.41,126.32 394.41,125.47 394.84,125.47 394.84,124.61 395.66,124.61 395.66,123.96 396.49,123.96 396.49,123.31 397.31,123.31 397.31,122.66 398.13,122.66 398.13,122.01 398.95,122.01 398.95,121.36 399.78,121.36 399.78,120.71 400.60,120.71 400.60,120.06 401.20,120.06 401.20,119.45 401.81,119.45 401.81,118.83 402.41,118.83 402.41,118.22 403.01,118.22 403.01,117.60 403.62,117.60 403.62,116.99 404.25,116.99 404.25,116.05 404.48,116.05 404.48,115.51 404.70,115.51 404.70,114.98 404.93,114.98 404.93,114.44 405.16,114.44 405.16,113.91 405.39,113.91 405.39,113.37 406.60,113.37 406.60,112.85 407.81,112.85 407.81,112.34 409.02,112.34 409.02,111.82 410.23,111.82 410.23,111.31 411.44,111.31 411.44,110.79 412.64,110.79 412.64,110.28 413.84,110.28 413.84,109.77 415.04,109.77 415.04,109.26 416.24,109.26 416.24,108.75 417.44,108.75 417.44,108.23 418.64,108.23 418.64,107.72 419.84,107.72 419.84,107.21 422.89,107.21 422.89,106.69 426.35,106.69 426.35,106.16 429.80,106.16 429.80,105.64 433.60,105.64 433.60,105.12 437.40,105.12 437.40,104.59 441.20,104.59 441.20,104.06 445.00,104.06 445.00,103.53 449.20,103.53 449.20,103.03 454.60,103.03 454.60,102.52 460.00,102.52 460.00,102.01 465.40,102.01 465.40,101.51 471.28,101.51 471.28,101.00 477.16,101.00 477.16,100.49 506.00,100.49 506.00,100.99 510.40,100.99" fill="none" stroke="#36ad47" stroke-width="1.5" stroke-linejoin="round" stroke-linecap="round"/>
<polyline points="393.40,127.00 395.05,127.00 395.05,126.50 396.69,126.50 396.69,125.88 397.31,125.88 397.31,125.24 397.93,125.24 397.93,124.60 398.54,124.60 398.54,123.97 399.16,123.97 399.16,123.33 399.78,123.33 399.78,122.69 400.39,122.69 400.39,122.06 401.02,122.06 401.02,121.44 401.66,121.44 401.66,120.84 402.29,120.84 402.29,120.24 402.93,120.24 402.93,119.64 403.56,119.64 403.56,119.03 404.18,119.03 404.18,117.93 404.39,117.93 404.39,117.23 404.59,117.23 404.59,116.53 404.79,116.53 404.79,115.83 404.99,115.83 404.99,115.13 405.19,115.13 405.19,114.43 405.39,114.43 405.39,113.73 406.40,113.73 406.40,113.19 407.41,113.19 407.41,112.64 408.42,112.64 408.42,112.10 409.43,112.10 409.43,111.56 410.43,111.56 410.43,111.02 411.64,111.02 411.64,110.43 412.84,110.43 412.84,109.91 414.04,109.91 414.04,109.39 415.24,109.39 415.24,108.86 416.44,108.86 416.44,108.34 417.64,108.34 417.64,107.82 418.84,107.82 418.84,107.29 420.04,107.29 420.04,106.77 424.52,106.77 424.52,106.26 428.99,106.26 428.99,105.75 437.20,105.75 437.20,105.23 445.80,105.23 445.80,104.72 459.20,104.72 459.20,104.22 510.40,104.22" fill="none" stroke="#c9173a" stroke-width="1.5" stroke-linejoin="round" stroke-linecap="round"/>
<polyline points="393.40,127.00 393.98,127.00 393.98,126.32 394.41,126.32 394.41,125.47 394.84,125.47 394.84,124.61 395.66,124.61 395.66,123.96 396.49,123.96 396.49,123.31 397.31,123.31 397.31,122.66 398.13,122.66 398.13,122.01 398.95,122.01 398.95,121.36 399.78,121.36 399.78,120.71 400.60,120.71 400.60,120.06 401.20,120.06 401.20,119.45 401.81,119.45 401.81,118.83 402.41,118.83 402.41,118.22 403.01,118.22 403.01,117.60 403.62,117.60 403.62,116.99 404.25,116.99 404.25,116.05 404.48,116.05 404.48,115.51 404.70,115.51 404.70,114.98 404.93,114.98 404.93,114.44 405.16,114.44 405.16,113.91 405.39,113.91 405.39,113.37 406.60,113.37 406.60,112.85 407.81,112.85 407.81,112.34 409.02,112.34 409.02,111.82 410.23,111.82 410.23,111.31 411.64,111.31 411.64,110.74 413.04,110.74 413.04,110.21 414.44,110.21 414.44,109.68 415.84,109.68 415.84,109.15 417.24,109.15 417.24,108.63 418.64,108.63 418.64,108.10 420.04,108.10 420.04,107.57 424.11,107.57 424.11,107.07 428.18,107.07 428.18,106.56 433.22,106.56 433.22,106.05 438.45,106.05 438.45,105.55 443.68,105.55 443.68,105.05 448.91,105.05 448.91,104.55 455.35,104.55 455.35,104.04 462.18,104.04 462.18,103.53 469.80,103.53 469.80,103.03 478.40,103.03 478.40,102.52 492.20,102.52 492.20,102.02 510.40,102.02" fill="none" stroke="#5f2781" stroke-width="1.5" stroke-linejoin="round" stroke-linecap="round"/>
<polyline points="393.40,127.00 393.98,127.00 393.98,126.32 394.41,126.32 394.41,125.47 394.84,125.47 394.84,124.61 395.66,124.61 395.66,123.96 396.49,123.96 396.49,123.31 397.31,123.31 397.31,122.66 398.13,122.66 398.13,122.01 398.95,122.01 398.95,121.36 399.78,121.36 399.78,120.71 400.60,120.71 400.60,120.06 401.20,120.06 401.20,119.45 401.81,119.45 401.81,118.83 402.41,118.83 402.41,118.22 403.01,118.22 403.01,117.60 403.62,117.60 403.62,116.99 404.25,116.99 404.25,116.05 404.48,116.05 404.48,115.51 404.70,115.51 404.70,114.98 404.93,114.98 404.93,114.44 405.16,114.44 405.16,113.91 405.39,113.91 405.39,113.37 406.80,113.37 406.80,112.81 408.21,112.81 408.21,112.25 409.63,112.25 409.63,111.70 411.04,111.70 411.04,111.14 412.44,111.14 412.44,110.63 413.84,110.63 413.84,110.11 415.24,110.11 415.24,109.60 416.64,109.60 416.64,109.09 418.04,109.09 418.04,108.57 419.44,108.57 419.44,108.06 422.07,108.06 422.07,107.53 425.53,107.53 425.53,107.00 428.99,107.00 428.99,106.47 432.82,106.47 432.82,105.95 436.64,105.95 436.64,105.44 440.46,105.44 440.46,104.92 444.29,104.92 444.29,104.41 448.11,104.41 448.11,103.89 461.18,103.89 461.18,103.39 473.72,103.39 473.72,102.88 480.60,102.88 480.60,102.34 482.40,102.34 482.40,101.80 510.40,101.80" fill="none" stroke="#1c5794" stroke-width="1.5" stroke-linejoin="round" stroke-linecap="round"/>
<text x="385" y="163.6" font-size="6.2" fill="#24609e" text-anchor="end" textLength="15.7" lengthAdjust="spacingAndGlyphs" stroke="#24609e" stroke-width="0.15">Haplo</text>
<text x="400.2" y="163.60" font-size="6.3" fill="#24609e" text-anchor="end" textLength="11.1" lengthAdjust="spacingAndGlyphs" stroke="#24609e" stroke-width="0.05">237</text>
<text x="435.4" y="163.60" font-size="6.3" fill="#24609e" text-anchor="end" textLength="11.1" lengthAdjust="spacingAndGlyphs" stroke="#24609e" stroke-width="0.05">117</text>
<text x="471" y="163.60" font-size="6.3" fill="#24609e" text-anchor="end" textLength="7.4" lengthAdjust="spacingAndGlyphs" stroke="#24609e" stroke-width="0.05">73</text>
<text x="507" y="163.60" font-size="6.3" fill="#24609e" text-anchor="end" textLength="7.4" lengthAdjust="spacingAndGlyphs" stroke="#24609e" stroke-width="0.05">53</text>
<text x="385" y="174.9" font-size="6.2" fill="#43b84f" text-anchor="end" textLength="30.1" lengthAdjust="spacingAndGlyphs" stroke="#43b84f" stroke-width="0.15">HLA sibling</text>
<text x="400.2" y="174.90" font-size="6.3" fill="#43b84f" text-anchor="end" textLength="11.1" lengthAdjust="spacingAndGlyphs" stroke="#43b84f" stroke-width="0.05">911</text>
<text x="435.4" y="174.90" font-size="6.3" fill="#43b84f" text-anchor="end" textLength="11.1" lengthAdjust="spacingAndGlyphs" stroke="#43b84f" stroke-width="0.05">482</text>
<text x="471" y="174.90" font-size="6.3" fill="#43b84f" text-anchor="end" textLength="11.1" lengthAdjust="spacingAndGlyphs" stroke="#43b84f" stroke-width="0.05">351</text>
<text x="507" y="174.90" font-size="6.3" fill="#43b84f" text-anchor="end" textLength="11.1" lengthAdjust="spacingAndGlyphs" stroke="#43b84f" stroke-width="0.05">278</text>
<text x="385" y="186.2" font-size="6.2" fill="#cf1f3d" text-anchor="end" textLength="31.5" lengthAdjust="spacingAndGlyphs" stroke="#cf1f3d" stroke-width="0.15">MU no ATG</text>
<text x="400.2" y="186.20" font-size="6.3" fill="#cf1f3d" text-anchor="end" textLength="11.1" lengthAdjust="spacingAndGlyphs" stroke="#cf1f3d" stroke-width="0.05">326</text>
<text x="435.4" y="186.20" font-size="6.3" fill="#cf1f3d" text-anchor="end" textLength="11.1" lengthAdjust="spacingAndGlyphs" stroke="#cf1f3d" stroke-width="0.05">181</text>
<text x="471" y="186.20" font-size="6.3" fill="#cf1f3d" text-anchor="end" textLength="11.1" lengthAdjust="spacingAndGlyphs" stroke="#cf1f3d" stroke-width="0.05">148</text>
<text x="507" y="186.20" font-size="6.3" fill="#cf1f3d" text-anchor="end" textLength="11.1" lengthAdjust="spacingAndGlyphs" stroke="#cf1f3d" stroke-width="0.05">117</text>
<text x="385" y="197.3" font-size="6.2" fill="#6b3388" text-anchor="end" textLength="31.5" lengthAdjust="spacingAndGlyphs" stroke="#6b3388" stroke-width="0.15">MU w/ ATG</text>
<text x="400.2" y="197.30" font-size="6.3" fill="#6b3388" text-anchor="end" textLength="11.1" lengthAdjust="spacingAndGlyphs" stroke="#6b3388" stroke-width="0.05">468</text>
<text x="435.4" y="197.30" font-size="6.3" fill="#6b3388" text-anchor="end" textLength="11.1" lengthAdjust="spacingAndGlyphs" stroke="#6b3388" stroke-width="0.05">234</text>
<text x="471" y="197.30" font-size="6.3" fill="#6b3388" text-anchor="end" textLength="11.1" lengthAdjust="spacingAndGlyphs" stroke="#6b3388" stroke-width="0.05">164</text>
<text x="507" y="197.30" font-size="6.3" fill="#6b3388" text-anchor="end" textLength="11.1" lengthAdjust="spacingAndGlyphs" stroke="#6b3388" stroke-width="0.05">126</text>
<line x1="49.3" y1="244.8" x2="49.3" y2="339.1" stroke="#222" stroke-width="1.3"/>
<line x1="48.8" y1="338.5" x2="172.5" y2="338.5" stroke="#111" stroke-width="1.1"/>
<line x1="46.199999999999996" y1="337.40" x2="49.3" y2="337.40" stroke="#222" stroke-width="1"/>
<text x="42.699999999999996" y="340.10" font-size="7.8" fill="#111" text-anchor="end" textLength="4.1" lengthAdjust="spacingAndGlyphs" stroke="#111" stroke-width="0.1">0</text>
<line x1="46.199999999999996" y1="328.51" x2="49.3" y2="328.51" stroke="#222" stroke-width="1"/>
<line x1="46.199999999999996" y1="319.62" x2="49.3" y2="319.62" stroke="#222" stroke-width="1"/>
<text x="42.699999999999996" y="322.32" font-size="7.8" fill="#111" text-anchor="end" textLength="8.2" lengthAdjust="spacingAndGlyphs" stroke="#111" stroke-width="0.1">20</text>
<line x1="46.199999999999996" y1="310.73" x2="49.3" y2="310.73" stroke="#222" stroke-width="1"/>
<line x1="46.199999999999996" y1="301.84" x2="49.3" y2="301.84" stroke="#222" stroke-width="1"/>
<text x="42.699999999999996" y="304.54" font-size="7.8" fill="#111" text-anchor="end" textLength="8.2" lengthAdjust="spacingAndGlyphs" stroke="#111" stroke-width="0.1">40</text>
<line x1="46.199999999999996" y1="292.95" x2="49.3" y2="292.95" stroke="#222" stroke-width="1"/>
<line x1="46.199999999999996" y1="284.06" x2="49.3" y2="284.06" stroke="#222" stroke-width="1"/>
<text x="42.699999999999996" y="286.76" font-size="7.8" fill="#111" text-anchor="end" textLength="8.2" lengthAdjust="spacingAndGlyphs" stroke="#111" stroke-width="0.1">60</text>
<line x1="46.199999999999996" y1="275.17" x2="49.3" y2="275.17" stroke="#222" stroke-width="1"/>
<line x1="46.199999999999996" y1="266.28" x2="49.3" y2="266.28" stroke="#222" stroke-width="1"/>
<text x="42.699999999999996" y="268.98" font-size="7.8" fill="#111" text-anchor="end" textLength="8.2" lengthAdjust="spacingAndGlyphs" stroke="#111" stroke-width="0.1">80</text>
<line x1="46.199999999999996" y1="257.39" x2="49.3" y2="257.39" stroke="#222" stroke-width="1"/>
<line x1="46.199999999999996" y1="248.50" x2="49.3" y2="248.50" stroke="#222" stroke-width="1"/>
<text x="42.699999999999996" y="251.20" font-size="7.8" fill="#111" text-anchor="end" textLength="12.3" lengthAdjust="spacingAndGlyphs" stroke="#111" stroke-width="0.1">100</text>
<line x1="51.60" y1="338.5" x2="51.60" y2="341.7" stroke="#222" stroke-width="1"/>
<line x1="71.03" y1="338.5" x2="71.03" y2="341.7" stroke="#222" stroke-width="1"/>
<line x1="90.47" y1="338.5" x2="90.47" y2="341.7" stroke="#222" stroke-width="1"/>
<line x1="109.91" y1="338.5" x2="109.91" y2="341.7" stroke="#222" stroke-width="1"/>
<line x1="129.34" y1="338.5" x2="129.34" y2="341.7" stroke="#222" stroke-width="1"/>
<line x1="148.78" y1="338.5" x2="148.78" y2="341.7" stroke="#222" stroke-width="1"/>
<line x1="168.21" y1="338.5" x2="168.21" y2="341.7" stroke="#222" stroke-width="1"/>
<text x="51.60" y="349.90" font-size="7.8" fill="#111" text-anchor="middle" textLength="4.1" lengthAdjust="spacingAndGlyphs" stroke="#111" stroke-width="0.1">0</text>
<text x="90.47" y="349.90" font-size="7.8" fill="#111" text-anchor="middle" textLength="4.1" lengthAdjust="spacingAndGlyphs" stroke="#111" stroke-width="0.1">1</text>
<text x="129.34" y="349.90" font-size="7.8" fill="#111" text-anchor="middle" textLength="4.1" lengthAdjust="spacingAndGlyphs" stroke="#111" stroke-width="0.1">2</text>
<text x="168.21" y="349.90" font-size="7.8" fill="#111" text-anchor="middle" textLength="4.1" lengthAdjust="spacingAndGlyphs" stroke="#111" stroke-width="0.1">3</text>
<text x="63" y="237.8" font-size="9.4" fill="#111" textLength="96.7" lengthAdjust="spacingAndGlyphs" stroke="#111" stroke-width="0.1">Progression-free survival</text>
<text x="143.3" y="258.7" font-size="7.5" fill="#111" textLength="19.5" lengthAdjust="spacingAndGlyphs" stroke="#111" stroke-width="0.1">p=0.8</text>
<text x="6.6" y="228" font-size="11.4" fill="#000" font-weight="bold" stroke="#000" stroke-width="0.35">D</text>
<text x="101.1" y="362.7" font-size="9.7" fill="#111" textLength="15.6" lengthAdjust="spacingAndGlyphs" stroke="#111" stroke-width="0.4">Years</text>
<polyline points="52.00,248.40 52.23,248.40 52.23,249.58 52.47,249.58 52.47,250.52 52.70,250.52 52.70,251.45 52.93,251.45 52.93,252.38 53.17,252.38 53.17,253.32 53.40,253.32 53.40,254.25 53.80,254.25 53.80,255.22 54.20,255.22 54.20,256.20 54.60,256.20 54.60,257.17 55.00,257.17 55.00,258.15 55.43,258.15 55.43,258.75 55.86,258.75 55.86,259.35 56.29,259.35 56.29,259.95 56.71,259.95 56.71,260.48 57.33,260.48 57.33,261.18 57.94,261.18 57.94,261.87 58.56,261.87 58.56,262.56 59.18,262.56 59.18,263.26 59.80,263.26 59.80,263.95 60.21,263.95 60.21,264.91 60.63,264.91 60.63,265.86 61.04,265.86 61.04,266.82 61.46,266.82 61.46,267.78 61.87,267.78 61.87,268.74 62.29,268.74 62.29,269.69 62.70,269.69 62.70,270.65 63.33,270.65 63.33,271.34 63.95,271.34 63.95,272.03 64.58,272.03 64.58,272.72 65.20,272.72 65.20,273.42 65.83,273.42 65.83,274.11 66.46,274.11 66.46,274.80 67.08,274.80 67.08,275.49 67.70,275.49 67.70,276.07 68.72,276.07 68.72,276.64 69.73,276.64 69.73,277.22 70.75,277.22 70.75,277.79 71.76,277.79 71.76,278.37 72.78,278.37 72.78,278.94 73.79,278.94 73.79,279.52 75.01,279.52 75.01,280.11 76.23,280.11 76.23,280.64 77.44,280.64 77.44,281.18 78.66,281.18 78.66,281.72 79.87,281.72 79.87,282.26 81.09,282.26 81.09,282.79 82.72,282.79 82.72,283.32 85.20,283.32 85.20,283.83 87.67,283.83 87.67,284.34 89.93,284.34 89.93,284.86 91.97,284.86 91.97,285.37 94.01,285.37 94.01,285.88 96.05,285.88 96.05,286.39 98.10,286.39 98.10,286.90 99.15,286.90 99.15,287.45 100.00,287.45 100.00,287.95 104.40,287.95 104.40,288.47 108.80,288.47 108.80,288.99 113.20,288.99 113.20,289.51 118.64,289.51 118.64,290.02 124.49,290.02 124.49,290.54 130.35,290.54 130.35,291.05 136.20,291.05 136.20,291.58 139.66,291.58 139.66,292.09 143.12,292.09 143.12,292.59 146.58,292.59 146.58,293.10 162.27,293.10 162.27,293.60 168.30,293.60" fill="none" stroke="#1c5794" stroke-width="1.5" stroke-linejoin="round" stroke-linecap="round"/>
<polyline points="52.00,248.40 52.22,248.40 52.22,249.30 52.43,249.30 52.43,249.94 52.65,249.94 52.65,250.59 52.86,250.59 52.86,251.23 53.08,251.23 53.08,251.88 53.29,251.88 53.29,252.53 53.51,252.53 53.51,253.17 53.72,253.17 53.72,253.82 53.94,253.82 53.94,254.47 54.15,254.47 54.15,255.11 54.37,255.11 54.37,255.76 54.58,255.76 54.58,256.40 54.80,256.40 54.80,257.05 55.20,257.05 55.20,257.56 55.60,257.56 55.60,258.07 56.00,258.07 56.00,258.59 56.40,258.59 56.40,259.10 56.80,259.10 56.80,259.61 57.20,259.61 57.20,260.12 57.60,260.12 57.60,260.63 58.00,260.63 58.00,261.15 58.40,261.15 58.40,261.66 58.80,261.66 58.80,262.17 59.20,262.17 59.20,262.68 59.60,262.68 59.60,263.19 60.01,263.19 60.01,263.94 60.42,263.94 60.42,264.91 60.84,264.91 60.84,265.88 61.25,265.88 61.25,266.85 61.66,266.85 61.66,267.82 62.08,267.82 62.08,268.79 62.49,268.79 62.49,269.76 62.91,269.76 62.91,270.49 63.53,270.49 63.53,271.21 64.16,271.21 64.16,271.92 64.79,271.92 64.79,272.64 65.41,272.64 65.41,273.36 66.04,273.36 66.04,274.08 66.67,274.08 66.67,274.79 67.29,274.79 67.29,275.51 68.11,275.51 68.11,276.11 69.12,276.11 69.12,276.72 70.14,276.72 70.14,277.33 71.15,277.33 71.15,277.93 72.17,277.93 72.17,278.54 73.18,278.54 73.18,279.14 74.20,279.14 74.20,279.75 75.42,279.75 75.42,280.33 76.63,280.33 76.63,280.92 77.85,280.92 77.85,281.50 79.06,281.50 79.06,282.09 80.28,282.09 80.28,282.67 81.49,282.67 81.49,283.26 83.55,283.26 83.55,283.79 86.02,283.79 86.02,284.30 88.49,284.30 88.49,284.81 90.33,284.81 90.33,285.36 91.97,285.36 91.97,285.87 93.60,285.87 93.60,286.38 95.24,286.38 95.24,286.89 96.87,286.89 96.87,287.40 98.51,287.40 98.51,287.94 99.79,287.94 99.79,288.46 103.40,288.46 103.40,288.98 107.40,288.98 107.40,289.48 111.40,289.48 111.40,289.98 116.22,289.98 116.22,290.48 123.48,290.48 123.48,290.98 130.75,290.98 130.75,291.49 136.81,291.49 136.81,292.00 139.46,292.00 139.46,292.51 142.11,292.51 142.11,293.01 144.75,293.01 144.75,293.51 147.40,293.51 147.40,294.01 161.27,294.01 161.27,294.51 168.30,294.51" fill="none" stroke="#5f2781" stroke-width="1.5" stroke-linejoin="round" stroke-linecap="round"/>
<polyline points="52.00,249.10 52.20,249.10 52.20,249.68 52.60,249.68 52.60,250.35 53.00,250.35 53.00,251.02 53.40,251.02 53.40,251.68 53.80,251.68 53.80,252.35 54.20,252.35 54.20,253.02 54.60,253.02 54.60,253.68 55.00,253.68 55.00,254.35 55.40,254.35 55.40,255.02 55.80,255.02 55.80,255.68 56.20,255.68 56.20,256.35 56.61,256.35 56.61,256.91 57.02,256.91 57.02,257.47 57.43,257.47 57.43,258.04 57.84,258.04 57.84,258.60 58.25,258.60 58.25,259.16 58.66,259.16 58.66,259.72 59.07,259.72 59.07,260.28 59.48,260.28 59.48,260.85 59.89,260.85 59.89,261.41 60.30,261.41 60.30,261.97 60.70,261.97 60.70,262.62 61.10,262.62 61.10,263.38 61.50,263.38 61.50,264.12 61.90,264.12 61.90,264.88 62.30,264.88 62.30,265.62 62.70,265.62 62.70,266.38 63.10,266.38 63.10,267.12 63.50,267.12 63.50,267.88 63.90,267.88 63.90,268.42 64.51,268.42 64.51,268.94 65.12,268.94 65.12,269.45 65.74,269.45 65.74,269.96 66.35,269.96 66.35,270.48 66.96,270.48 66.96,270.99 67.57,270.99 67.57,271.51 68.18,271.51 68.18,272.02 68.79,272.02 68.79,272.54 69.40,272.54 69.40,273.05 70.23,273.05 70.23,273.55 71.07,273.55 71.07,274.06 71.90,274.06 71.90,274.56 72.74,274.56 72.74,275.07 73.57,275.07 73.57,275.57 74.62,275.57 74.62,276.16 75.66,276.16 75.66,276.68 76.70,276.68 76.70,277.20 77.75,277.20 77.75,277.72 78.79,277.72 78.79,278.25 79.83,278.25 79.83,278.77 80.88,278.77 80.88,279.29 81.92,279.29 81.92,279.81 82.97,279.81 82.97,280.33 84.21,280.33 84.21,280.91 85.64,280.91 85.64,281.46 87.07,281.46 87.07,282.02 88.50,282.02 88.50,282.57 90.16,282.57 90.16,283.08 92.04,283.08 92.04,283.62 93.70,283.62 93.70,284.12 95.12,284.12 95.12,284.65 96.55,284.65 96.55,285.18 97.97,285.18 97.97,285.70 99.39,285.70 99.39,286.22 101.60,286.22 101.60,286.76 104.20,286.76 104.20,287.27 106.80,287.27 106.80,287.77 109.40,287.77 109.40,288.28 112.00,288.28 112.00,288.78 115.21,288.78 115.21,289.29 124.50,289.29 124.50,289.80 133.79,289.80 133.79,290.31 136.83,290.31 136.83,290.84 139.25,290.84 139.25,291.37 141.68,291.37 141.68,291.90 155.70,291.90 155.70,292.40 168.30,292.40" fill="none" stroke="#36ad47" stroke-width="1.5" stroke-linejoin="round" stroke-linecap="round"/>
<polyline points="52.00,248.40 52.63,248.40 52.63,248.98 53.68,248.98 53.68,249.53 54.31,249.53 54.31,250.34 54.52,250.34 54.52,250.93 54.73,250.93 54.73,251.52 54.94,251.52 54.94,252.11 55.15,252.11 55.15,252.70 55.36,252.70 55.36,253.29 55.57,253.29 55.57,253.88 55.78,253.88 55.78,254.47 55.99,254.47 55.99,255.06 56.20,255.06 56.20,255.65 56.63,255.65 56.63,256.30 57.06,256.30 57.06,256.94 57.49,256.94 57.49,257.59 57.92,257.59 57.92,258.23 58.35,258.23 58.35,258.88 58.78,258.88 58.78,259.53 59.23,259.53 59.23,260.18 59.67,260.18 59.67,260.82 60.12,260.82 60.12,261.48 60.57,261.48 60.57,262.12 61.01,262.12 61.01,262.72 61.43,262.72 61.43,263.25 61.86,263.25 61.86,263.78 62.28,263.78 62.28,264.32 62.70,264.32 62.70,264.85 62.90,264.85 62.90,265.63 63.10,265.63 63.10,266.41 63.30,266.41 63.30,267.19 63.50,267.19 63.50,267.97 63.70,267.97 63.70,268.75 64.13,268.75 64.13,269.41 64.56,269.41 64.56,270.07 64.99,270.07 64.99,270.73 65.42,270.73 65.42,271.40 65.85,271.40 65.85,272.06 66.28,272.06 66.28,272.72 66.92,272.72 66.92,273.38 67.75,273.38 67.75,274.04 68.59,274.04 68.59,274.70 69.42,274.70 69.42,275.36 70.26,275.36 70.26,276.02 71.09,276.02 71.09,276.68 71.91,276.68 71.91,277.28 72.73,277.28 72.73,277.84 73.55,277.84 73.55,278.41 74.36,278.41 74.36,278.98 75.18,278.98 75.18,279.54 76.00,279.54 76.00,280.11 77.43,280.11 77.43,280.64 79.08,280.64 79.08,281.16 80.72,281.16 80.72,281.68 82.36,281.68 82.36,282.20 84.21,282.20 84.21,282.73 86.66,282.73 86.66,283.23 89.51,283.23 89.51,283.76 93.37,283.76 93.37,284.28 97.28,284.28 97.28,284.80 101.21,284.80 101.21,285.32 104.84,285.32 104.84,285.82 108.47,285.82 108.47,286.33 111.71,286.33 111.71,286.84 112.95,286.84 112.95,287.35 114.19,287.35 114.19,287.86 136.60,287.86 136.60,288.40 139.00,288.40 139.00,288.94 143.30,288.94 143.30,289.45 151.24,289.45 151.24,289.96 159.30,289.96 159.30,290.47 166.10,290.47 166.10,290.98 168.30,290.98" fill="none" stroke="#c9173a" stroke-width="1.5" stroke-linejoin="round" stroke-linecap="round"/>
<text x="42.2" y="373.7" font-size="6.2" fill="#24609e" text-anchor="end" textLength="15.7" lengthAdjust="spacingAndGlyphs" stroke="#24609e" stroke-width="0.15">Haplo</text>
<text x="57.8" y="373.70" font-size="6.3" fill="#24609e" text-anchor="end" textLength="11.1" lengthAdjust="spacingAndGlyphs" stroke="#24609e" stroke-width="0.05">235</text>
<text x="96" y="373.70" font-size="6.3" fill="#24609e" text-anchor="end" textLength="11.1" lengthAdjust="spacingAndGlyphs" stroke="#24609e" stroke-width="0.05">117</text>
<text x="135" y="373.70" font-size="6.3" fill="#24609e" text-anchor="end" textLength="7.4" lengthAdjust="spacingAndGlyphs" stroke="#24609e" stroke-width="0.05">73</text>
<text x="174" y="373.70" font-size="6.3" fill="#24609e" text-anchor="end" textLength="7.4" lengthAdjust="spacingAndGlyphs" stroke="#24609e" stroke-width="0.05">53</text>
<text x="42.2" y="385.0" font-size="6.2" fill="#43b84f" text-anchor="end" textLength="30.1" lengthAdjust="spacingAndGlyphs" stroke="#43b84f" stroke-width="0.15">HLA sibling</text>
<text x="57.8" y="385.00" font-size="6.3" fill="#43b84f" text-anchor="end" textLength="11.1" lengthAdjust="spacingAndGlyphs" stroke="#43b84f" stroke-width="0.05">909</text>
<text x="96" y="385.00" font-size="6.3" fill="#43b84f" text-anchor="end" textLength="11.1" lengthAdjust="spacingAndGlyphs" stroke="#43b84f" stroke-width="0.05">482</text>
<text x="135" y="385.00" font-size="6.3" fill="#43b84f" text-anchor="end" textLength="11.1" lengthAdjust="spacingAndGlyphs" stroke="#43b84f" stroke-width="0.05">351</text>
<text x="174" y="385.00" font-size="6.3" fill="#43b84f" text-anchor="end" textLength="11.1" lengthAdjust="spacingAndGlyphs" stroke="#43b84f" stroke-width="0.05">279</text>
<text x="42.2" y="396.3" font-size="6.2" fill="#cf1f3d" text-anchor="end" textLength="31.5" lengthAdjust="spacingAndGlyphs" stroke="#cf1f3d" stroke-width="0.15">MU no ATG</text>
<text x="57.8" y="396.30" font-size="6.3" fill="#cf1f3d" text-anchor="end" textLength="11.1" lengthAdjust="spacingAndGlyphs" stroke="#cf1f3d" stroke-width="0.05">325</text>
<text x="96" y="396.30" font-size="6.3" fill="#cf1f3d" text-anchor="end" textLength="11.1" lengthAdjust="spacingAndGlyphs" stroke="#cf1f3d" stroke-width="0.05">181</text>
<text x="135" y="396.30" font-size="6.3" fill="#cf1f3d" text-anchor="end" textLength="11.1" lengthAdjust="spacingAndGlyphs" stroke="#cf1f3d" stroke-width="0.05">148</text>
<text x="174" y="396.30" font-size="6.3" fill="#cf1f3d" text-anchor="end" textLength="11.1" lengthAdjust="spacingAndGlyphs" stroke="#cf1f3d" stroke-width="0.05">117</text>
<text x="42.2" y="407.6" font-size="6.2" fill="#6b3388" text-anchor="end" textLength="31.5" lengthAdjust="spacingAndGlyphs" stroke="#6b3388" stroke-width="0.15">MU w/ ATG</text>
<text x="57.8" y="407.60" font-size="6.3" fill="#6b3388" text-anchor="end" textLength="11.1" lengthAdjust="spacingAndGlyphs" stroke="#6b3388" stroke-width="0.05">465</text>
<text x="96" y="407.60" font-size="6.3" fill="#6b3388" text-anchor="end" textLength="11.1" lengthAdjust="spacingAndGlyphs" stroke="#6b3388" stroke-width="0.05">234</text>
<text x="135" y="407.60" font-size="6.3" fill="#6b3388" text-anchor="end" textLength="11.1" lengthAdjust="spacingAndGlyphs" stroke="#6b3388" stroke-width="0.05">164</text>
<text x="174" y="407.60" font-size="6.3" fill="#6b3388" text-anchor="end" textLength="11.1" lengthAdjust="spacingAndGlyphs" stroke="#6b3388" stroke-width="0.05">126</text>
<line x1="222.9" y1="244.8" x2="222.9" y2="339.1" stroke="#222" stroke-width="1.3"/>
<line x1="222.4" y1="338.5" x2="345" y2="338.5" stroke="#111" stroke-width="1.1"/>
<line x1="219.8" y1="337.40" x2="222.9" y2="337.40" stroke="#222" stroke-width="1"/>
<text x="216.3" y="340.10" font-size="7.8" fill="#111" text-anchor="end" textLength="4.1" lengthAdjust="spacingAndGlyphs" stroke="#111" stroke-width="0.1">0</text>
<line x1="219.8" y1="328.51" x2="222.9" y2="328.51" stroke="#222" stroke-width="1"/>
<line x1="219.8" y1="319.62" x2="222.9" y2="319.62" stroke="#222" stroke-width="1"/>
<text x="216.3" y="322.32" font-size="7.8" fill="#111" text-anchor="end" textLength="8.2" lengthAdjust="spacingAndGlyphs" stroke="#111" stroke-width="0.1">20</text>
<line x1="219.8" y1="310.73" x2="222.9" y2="310.73" stroke="#222" stroke-width="1"/>
<line x1="219.8" y1="301.84" x2="222.9" y2="301.84" stroke="#222" stroke-width="1"/>
<text x="216.3" y="304.54" font-size="7.8" fill="#111" text-anchor="end" textLength="8.2" lengthAdjust="spacingAndGlyphs" stroke="#111" stroke-width="0.1">40</text>
<line x1="219.8" y1="292.95" x2="222.9" y2="292.95" stroke="#222" stroke-width="1"/>
<line x1="219.8" y1="284.06" x2="222.9" y2="284.06" stroke="#222" stroke-width="1"/>
<text x="216.3" y="286.76" font-size="7.8" fill="#111" text-anchor="end" textLength="8.2" lengthAdjust="spacingAndGlyphs" stroke="#111" stroke-width="0.1">60</text>
<line x1="219.8" y1="275.17" x2="222.9" y2="275.17" stroke="#222" stroke-width="1"/>
<line x1="219.8" y1="266.28" x2="222.9" y2="266.28" stroke="#222" stroke-width="1"/>
<text x="216.3" y="268.98" font-size="7.8" fill="#111" text-anchor="end" textLength="8.2" lengthAdjust="spacingAndGlyphs" stroke="#111" stroke-width="0.1">80</text>
<line x1="219.8" y1="257.39" x2="222.9" y2="257.39" stroke="#222" stroke-width="1"/>
<line x1="219.8" y1="248.50" x2="222.9" y2="248.50" stroke="#222" stroke-width="1"/>
<text x="216.3" y="251.20" font-size="7.8" fill="#111" text-anchor="end" textLength="12.3" lengthAdjust="spacingAndGlyphs" stroke="#111" stroke-width="0.1">100</text>
<line x1="225.20" y1="338.5" x2="225.20" y2="341.7" stroke="#222" stroke-width="1"/>
<line x1="244.45" y1="338.5" x2="244.45" y2="341.7" stroke="#222" stroke-width="1"/>
<line x1="263.70" y1="338.5" x2="263.70" y2="341.7" stroke="#222" stroke-width="1"/>
<line x1="282.95" y1="338.5" x2="282.95" y2="341.7" stroke="#222" stroke-width="1"/>
<line x1="302.20" y1="338.5" x2="302.20" y2="341.7" stroke="#222" stroke-width="1"/>
<line x1="321.45" y1="338.5" x2="321.45" y2="341.7" stroke="#222" stroke-width="1"/>
<line x1="340.70" y1="338.5" x2="340.70" y2="341.7" stroke="#222" stroke-width="1"/>
<text x="225.20" y="349.90" font-size="7.8" fill="#111" text-anchor="middle" textLength="4.1" lengthAdjust="spacingAndGlyphs" stroke="#111" stroke-width="0.1">0</text>
<text x="263.70" y="349.90" font-size="7.8" fill="#111" text-anchor="middle" textLength="4.1" lengthAdjust="spacingAndGlyphs" stroke="#111" stroke-width="0.1">1</text>
<text x="302.20" y="349.90" font-size="7.8" fill="#111" text-anchor="middle" textLength="4.1" lengthAdjust="spacingAndGlyphs" stroke="#111" stroke-width="0.1">2</text>
<text x="340.70" y="349.90" font-size="7.8" fill="#111" text-anchor="middle" textLength="4.1" lengthAdjust="spacingAndGlyphs" stroke="#111" stroke-width="0.1">3</text>
<text x="255.1" y="237.8" font-size="9.4" fill="#111" textLength="57.9" lengthAdjust="spacingAndGlyphs" stroke="#111" stroke-width="0.1">Overall survival</text>
<text x="316.2" y="258.7" font-size="7.5" fill="#111" textLength="19.6" lengthAdjust="spacingAndGlyphs" stroke="#111" stroke-width="0.1">p=0.3</text>
<text x="203.3" y="228" font-size="11.4" fill="#000" font-weight="bold" stroke="#000" stroke-width="0.35">E</text>
<text x="275" y="362.7" font-size="9.7" fill="#111" textLength="15" lengthAdjust="spacingAndGlyphs" stroke="#111" stroke-width="0.4">Years</text>
<polyline points="225.70,249.70 225.90,249.70 225.90,250.51 226.10,250.51 226.10,251.07 226.30,251.07 226.30,251.63 226.50,251.63 226.50,252.19 226.70,252.19 226.70,252.75 227.30,252.75 227.30,253.35 227.90,253.35 227.90,253.95 228.50,253.95 228.50,254.55 229.10,254.55 229.10,255.15 229.71,255.15 229.71,255.71 230.53,255.71 230.53,256.33 231.35,256.33 231.35,256.95 232.17,256.95 232.17,257.57 232.99,257.57 232.99,258.19 233.41,258.19 233.41,258.86 233.62,258.86 233.62,259.37 233.83,259.37 233.83,259.88 234.04,259.88 234.04,260.39 234.26,260.39 234.26,260.91 234.47,260.91 234.47,261.42 234.68,261.42 234.68,261.93 234.89,261.93 234.89,262.44 235.10,262.44 235.10,262.95 235.92,262.95 235.92,263.57 236.74,263.57 236.74,264.19 237.57,264.19 237.57,264.82 238.39,264.82 238.39,265.44 239.21,265.44 239.21,265.96 240.25,265.96 240.25,266.48 241.29,266.48 241.29,266.99 242.33,266.99 242.33,267.51 243.36,267.51 243.36,268.03 244.40,268.03 244.40,268.55 245.26,268.55 245.26,269.13 246.12,269.13 246.12,269.72 246.98,269.72 246.98,270.30 247.60,270.30 247.60,270.85 248.20,270.85 248.20,271.45 248.80,271.45 248.80,272.05 249.40,272.05 249.40,272.65 250.00,272.65 250.00,273.25 251.67,273.25 251.67,273.76 253.35,273.76 253.35,274.27 255.80,274.27 255.80,274.78 260.60,274.78 260.60,275.30 263.40,275.30 263.40,275.83 265.40,275.83 265.40,276.37 267.40,276.37 267.40,276.92 269.80,276.92 269.80,277.43 274.80,277.43 274.80,277.93 278.00,277.93 278.00,278.45 280.60,278.45 280.60,278.97 283.40,278.97 283.40,279.49 288.65,279.49 288.65,279.99 293.91,279.99 293.91,280.50 298.17,280.50 298.17,281.01 302.43,281.01 302.43,281.52 306.70,281.52 306.70,282.03 311.94,282.03 311.94,282.54 317.18,282.54 317.18,283.04 322.42,283.04 322.42,283.56 327.47,283.56 327.47,284.08 333.12,284.08 333.12,284.59 340.39,284.59 340.39,285.09 341.20,285.09" fill="none" stroke="#1c5794" stroke-width="1.5" stroke-linejoin="round" stroke-linecap="round"/>
<polyline points="225.70,248.30 225.91,248.30 225.91,249.02 226.33,249.02 226.33,249.95 226.76,249.95 226.76,250.88 227.18,250.88 227.18,251.82 227.60,251.82 227.60,252.75 228.42,252.75 228.42,253.37 229.24,253.37 229.24,253.99 230.07,253.99 230.07,254.62 230.89,254.62 230.89,255.24 231.52,255.24 231.52,255.77 232.16,255.77 232.16,256.41 232.81,256.41 232.81,257.06 233.45,257.06 233.45,257.70 234.10,257.70 234.10,258.35 234.52,258.35 234.52,259.17 234.94,259.17 234.94,259.99 235.37,259.99 235.37,260.82 235.79,260.82 235.79,261.64 236.21,261.64 236.21,262.20 237.05,262.20 237.05,262.78 237.88,262.78 237.88,263.36 238.72,263.36 238.72,263.94 239.55,263.94 239.55,264.52 240.39,264.52 240.39,265.10 241.43,265.10 241.43,265.66 242.47,265.66 242.47,266.18 243.50,266.18 243.50,266.70 244.54,266.70 244.54,267.22 245.58,267.22 245.58,267.74 246.80,267.74 246.80,268.31 248.00,268.31 248.00,268.82 249.20,268.82 249.20,269.34 250.40,269.34 250.40,269.85 251.60,269.85 251.60,270.36 252.84,270.36 252.84,270.88 254.08,270.88 254.08,271.39 255.33,271.39 255.33,271.90 256.57,271.90 256.57,272.41 257.80,272.41 257.80,272.93 259.00,272.93 259.00,273.48 260.20,273.48 260.20,274.03 261.40,274.03 261.40,274.58 262.80,274.58 262.80,275.09 264.60,275.09 264.60,275.63 266.40,275.63 266.40,276.17 268.20,276.17 268.20,276.71 270.40,276.71 270.40,277.23 273.00,277.23 273.00,277.75 275.60,277.75 275.60,278.27 278.80,278.27 278.80,278.79 282.00,278.79 282.00,279.29 286.63,279.29 286.63,279.80 291.88,279.80 291.88,280.30 296.55,280.30 296.55,280.81 300.81,280.81 300.81,281.32 305.07,281.32 305.07,281.83 309.92,281.83 309.92,282.34 315.16,282.34 315.16,282.85 320.40,282.85 320.40,283.35 325.45,283.35 325.45,283.87 330.49,283.87 330.49,284.39 336.76,284.39 336.76,284.90 341.20,284.90" fill="none" stroke="#5f2781" stroke-width="1.5" stroke-linejoin="round" stroke-linecap="round"/>
<polyline points="225.30,248.40 225.73,248.40 225.73,249.00 226.36,249.00 226.36,249.53 227.00,249.53 227.00,250.05 227.63,250.05 227.63,250.61 228.26,250.61 228.26,251.16 228.89,251.16 228.89,251.72 229.52,251.72 229.52,252.27 230.15,252.27 230.15,252.82 230.78,252.82 230.78,253.38 231.40,253.38 231.40,253.94 232.00,253.94 232.00,254.51 232.60,254.51 232.60,255.08 233.20,255.08 233.20,255.65 233.80,255.65 233.80,256.23 234.40,256.23 234.40,256.80 235.00,256.80 235.00,257.37 235.60,257.37 235.60,257.93 236.22,257.93 236.22,258.47 236.83,258.47 236.83,259.02 237.45,259.02 237.45,259.56 238.06,259.56 238.06,260.10 238.68,260.10 238.68,260.65 239.29,260.65 239.29,261.19 240.10,261.19 240.10,261.75 241.10,261.75 241.10,262.25 242.10,262.25 242.10,262.75 243.10,262.75 243.10,263.25 244.10,263.25 244.10,263.75 245.10,263.75 245.10,264.25 246.73,264.25 246.73,264.78 248.57,264.78 248.57,265.32 250.21,265.32 250.21,265.84 251.46,265.84 251.46,266.35 252.72,266.35 252.72,266.87 253.97,266.87 253.97,267.39 255.40,267.39 255.40,267.90 257.20,267.90 257.20,268.46 259.00,268.46 259.00,269.02 260.80,269.02 260.80,269.58 262.40,269.58 262.40,270.09 263.80,270.09 263.80,270.59 265.20,270.59 265.20,271.09 266.60,271.09 266.60,271.59 268.00,271.59 268.00,272.09 269.80,272.09 269.80,272.64 272.00,272.64 272.00,273.16 274.20,273.16 274.20,273.68 276.40,273.68 276.40,274.20 278.60,274.20 278.60,274.72 281.81,274.72 281.81,275.23 286.86,275.23 286.86,275.73 291.90,275.73 291.90,276.23 296.94,276.23 296.94,276.73 301.98,276.73 301.98,277.23 305.21,277.23 305.21,277.74 307.03,277.74 307.03,278.25 308.86,278.25 308.86,278.77 310.68,278.77 310.68,279.29 323.00,279.29 323.00,279.80 328.20,279.80 328.20,280.30 333.40,280.30 333.40,280.80 338.60,280.80 338.60,281.30 341.20,281.30" fill="none" stroke="#36ad47" stroke-width="1.5" stroke-linejoin="round" stroke-linecap="round"/>
<polyline points="225.30,248.40 226.14,248.40 226.14,248.94 227.60,248.94 227.60,249.45 228.02,249.45 228.02,250.18 228.44,250.18 228.44,250.92 228.87,250.92 228.87,251.65 229.29,251.65 229.29,252.38 229.70,252.38 229.70,252.91 230.50,252.91 230.50,253.57 231.30,253.57 231.30,254.23 232.10,254.23 232.10,254.89 232.95,254.89 232.95,255.49 233.81,255.49 233.81,256.07 234.67,256.07 234.67,256.66 235.30,256.66 235.30,257.21 235.70,257.21 235.70,257.72 236.10,257.72 236.10,258.23 236.50,258.23 236.50,258.74 236.90,258.74 236.90,259.25 237.55,259.25 237.55,259.90 238.19,259.90 238.19,260.54 238.84,260.54 238.84,261.19 239.48,261.19 239.48,261.83 240.32,261.83 240.32,262.43 241.14,262.43 241.14,262.94 241.96,262.94 241.96,263.46 242.78,263.46 242.78,263.97 243.60,263.97 243.60,264.47 244.63,264.47 244.63,265.08 245.65,265.08 245.65,265.69 246.67,265.69 246.67,266.30 247.69,266.30 247.69,266.91 248.92,266.91 248.92,267.48 250.35,267.48 250.35,268.06 251.78,268.06 251.78,268.64 253.22,268.64 253.22,269.18 254.89,269.18 254.89,269.69 256.56,269.69 256.56,270.20 258.20,270.20 258.20,270.76 259.60,270.76 259.60,271.31 261.00,271.31 261.00,271.86 263.00,271.86 263.00,272.36 267.40,272.36 267.40,272.87 271.80,272.87 271.80,273.37 276.20,273.37 276.20,273.88 279.20,273.88 279.20,274.40 282.20,274.40 282.20,274.91 286.63,274.91 286.63,275.43 291.48,275.43 291.48,275.94 299.76,275.94 299.76,276.44 305.62,276.44 305.62,276.96 308.05,276.96 308.05,277.50 310.48,277.50 310.48,278.04 313.72,278.04 313.72,278.56 320.60,278.56 320.60,279.07 325.40,279.07 325.40,279.57 330.20,279.57 330.20,280.07 335.24,280.07 335.24,280.59 340.58,280.59 340.58,281.09 341.20,281.09" fill="none" stroke="#c9173a" stroke-width="1.5" stroke-linejoin="round" stroke-linecap="round"/>
<text x="216" y="373.7" font-size="6.2" fill="#24609e" text-anchor="end" textLength="15.7" lengthAdjust="spacingAndGlyphs" stroke="#24609e" stroke-width="0.15">Haplo</text>
<text x="231" y="373.70" font-size="6.3" fill="#24609e" text-anchor="end" textLength="11.1" lengthAdjust="spacingAndGlyphs" stroke="#24609e" stroke-width="0.05">235</text>
<text x="270" y="373.70" font-size="6.3" fill="#24609e" text-anchor="end" textLength="11.1" lengthAdjust="spacingAndGlyphs" stroke="#24609e" stroke-width="0.05">140</text>
<text x="307" y="373.70" font-size="6.3" fill="#24609e" text-anchor="end" textLength="7.4" lengthAdjust="spacingAndGlyphs" stroke="#24609e" stroke-width="0.05">89</text>
<text x="347" y="373.70" font-size="6.3" fill="#24609e" text-anchor="end" textLength="7.4" lengthAdjust="spacingAndGlyphs" stroke="#24609e" stroke-width="0.05">64</text>
<text x="216" y="385.0" font-size="6.2" fill="#43b84f" text-anchor="end" textLength="30.1" lengthAdjust="spacingAndGlyphs" stroke="#43b84f" stroke-width="0.15">HLA sibling</text>
<text x="231" y="385.00" font-size="6.3" fill="#43b84f" text-anchor="end" textLength="11.1" lengthAdjust="spacingAndGlyphs" stroke="#43b84f" stroke-width="0.05">900</text>
<text x="270" y="385.00" font-size="6.3" fill="#43b84f" text-anchor="end" textLength="11.1" lengthAdjust="spacingAndGlyphs" stroke="#43b84f" stroke-width="0.05">593</text>
<text x="307" y="385.00" font-size="6.3" fill="#43b84f" text-anchor="end" textLength="11.1" lengthAdjust="spacingAndGlyphs" stroke="#43b84f" stroke-width="0.05">451</text>
<text x="347" y="385.00" font-size="6.3" fill="#43b84f" text-anchor="end" textLength="11.1" lengthAdjust="spacingAndGlyphs" stroke="#43b84f" stroke-width="0.05">353</text>
<text x="216" y="396.3" font-size="6.2" fill="#cf1f3d" text-anchor="end" textLength="31.5" lengthAdjust="spacingAndGlyphs" stroke="#cf1f3d" stroke-width="0.15">MU no ATG</text>
<text x="231" y="396.30" font-size="6.3" fill="#cf1f3d" text-anchor="end" textLength="11.1" lengthAdjust="spacingAndGlyphs" stroke="#cf1f3d" stroke-width="0.05">326</text>
<text x="270" y="396.30" font-size="6.3" fill="#cf1f3d" text-anchor="end" textLength="11.1" lengthAdjust="spacingAndGlyphs" stroke="#cf1f3d" stroke-width="0.05">223</text>
<text x="307" y="396.30" font-size="6.3" fill="#cf1f3d" text-anchor="end" textLength="11.1" lengthAdjust="spacingAndGlyphs" stroke="#cf1f3d" stroke-width="0.05">181</text>
<text x="347" y="396.30" font-size="6.3" fill="#cf1f3d" text-anchor="end" textLength="11.1" lengthAdjust="spacingAndGlyphs" stroke="#cf1f3d" stroke-width="0.05">141</text>
<text x="216" y="407.6" font-size="6.2" fill="#6b3388" text-anchor="end" textLength="31.5" lengthAdjust="spacingAndGlyphs" stroke="#6b3388" stroke-width="0.15">MU w/ ATG</text>
<text x="231" y="407.60" font-size="6.3" fill="#6b3388" text-anchor="end" textLength="11.1" lengthAdjust="spacingAndGlyphs" stroke="#6b3388" stroke-width="0.05">465</text>
<text x="270" y="407.60" font-size="6.3" fill="#6b3388" text-anchor="end" textLength="11.1" lengthAdjust="spacingAndGlyphs" stroke="#6b3388" stroke-width="0.05">279</text>
<text x="307" y="407.60" font-size="6.3" fill="#6b3388" text-anchor="end" textLength="11.1" lengthAdjust="spacingAndGlyphs" stroke="#6b3388" stroke-width="0.05">201</text>
<text x="347" y="407.60" font-size="6.3" fill="#6b3388" text-anchor="end" textLength="11.1" lengthAdjust="spacingAndGlyphs" stroke="#6b3388" stroke-width="0.05">152</text>
<line x1="391.2" y1="244.8" x2="391.2" y2="339.1" stroke="#222" stroke-width="1.3"/>
<line x1="390.7" y1="338.5" x2="513" y2="338.5" stroke="#111" stroke-width="1.1"/>
<line x1="388.09999999999997" y1="337.40" x2="391.2" y2="337.40" stroke="#222" stroke-width="1"/>
<text x="384.59999999999997" y="340.10" font-size="7.8" fill="#111" text-anchor="end" textLength="4.1" lengthAdjust="spacingAndGlyphs" stroke="#111" stroke-width="0.1">0</text>
<line x1="388.09999999999997" y1="328.51" x2="391.2" y2="328.51" stroke="#222" stroke-width="1"/>
<line x1="388.09999999999997" y1="319.62" x2="391.2" y2="319.62" stroke="#222" stroke-width="1"/>
<text x="384.59999999999997" y="322.32" font-size="7.8" fill="#111" text-anchor="end" textLength="8.2" lengthAdjust="spacingAndGlyphs" stroke="#111" stroke-width="0.1">20</text>
<line x1="388.09999999999997" y1="310.73" x2="391.2" y2="310.73" stroke="#222" stroke-width="1"/>
<line x1="388.09999999999997" y1="301.84" x2="391.2" y2="301.84" stroke="#222" stroke-width="1"/>
<text x="384.59999999999997" y="304.54" font-size="7.8" fill="#111" text-anchor="end" textLength="8.2" lengthAdjust="spacingAndGlyphs" stroke="#111" stroke-width="0.1">40</text>
<line x1="388.09999999999997" y1="292.95" x2="391.2" y2="292.95" stroke="#222" stroke-width="1"/>
<line x1="388.09999999999997" y1="284.06" x2="391.2" y2="284.06" stroke="#222" stroke-width="1"/>
<text x="384.59999999999997" y="286.76" font-size="7.8" fill="#111" text-anchor="end" textLength="8.2" lengthAdjust="spacingAndGlyphs" stroke="#111" stroke-width="0.1">60</text>
<line x1="388.09999999999997" y1="275.17" x2="391.2" y2="275.17" stroke="#222" stroke-width="1"/>
<line x1="388.09999999999997" y1="266.28" x2="391.2" y2="266.28" stroke="#222" stroke-width="1"/>
<text x="384.59999999999997" y="268.98" font-size="7.8" fill="#111" text-anchor="end" textLength="8.2" lengthAdjust="spacingAndGlyphs" stroke="#111" stroke-width="0.1">80</text>
<line x1="388.09999999999997" y1="257.39" x2="391.2" y2="257.39" stroke="#222" stroke-width="1"/>
<line x1="388.09999999999997" y1="248.50" x2="391.2" y2="248.50" stroke="#222" stroke-width="1"/>
<text x="384.59999999999997" y="251.20" font-size="7.8" fill="#111" text-anchor="end" textLength="12.3" lengthAdjust="spacingAndGlyphs" stroke="#111" stroke-width="0.1">100</text>
<line x1="393.40" y1="338.5" x2="393.40" y2="341.7" stroke="#222" stroke-width="1"/>
<line x1="411.40" y1="338.5" x2="411.40" y2="341.7" stroke="#222" stroke-width="1"/>
<line x1="429.40" y1="338.5" x2="429.40" y2="341.7" stroke="#222" stroke-width="1"/>
<line x1="447.40" y1="338.5" x2="447.40" y2="341.7" stroke="#222" stroke-width="1"/>
<line x1="465.40" y1="338.5" x2="465.40" y2="341.7" stroke="#222" stroke-width="1"/>
<line x1="483.40" y1="338.5" x2="483.40" y2="341.7" stroke="#222" stroke-width="1"/>
<line x1="501.40" y1="338.5" x2="501.40" y2="341.7" stroke="#222" stroke-width="1"/>
<text x="393.40" y="349.90" font-size="7.8" fill="#111" text-anchor="middle" textLength="4.1" lengthAdjust="spacingAndGlyphs" stroke="#111" stroke-width="0.1">0</text>
<text x="447.40" y="349.90" font-size="7.8" fill="#111" text-anchor="middle" textLength="4.1" lengthAdjust="spacingAndGlyphs" stroke="#111" stroke-width="0.1">1</text>
<text x="501.40" y="349.90" font-size="7.8" fill="#111" text-anchor="middle" textLength="4.1" lengthAdjust="spacingAndGlyphs" stroke="#111" stroke-width="0.1">2</text>
<text x="439.6" y="237.60000000000002" font-size="9.4" fill="#111" textLength="25.4" lengthAdjust="spacingAndGlyphs" stroke="#111" stroke-width="0.1">GRFS</text>
<text x="479" y="258.5" font-size="7.5" fill="#111" textLength="23.8" lengthAdjust="spacingAndGlyphs" stroke="#111" stroke-width="0.1">p=0.02</text>
<text x="371" y="228" font-size="11.4" fill="#000" font-weight="bold" stroke="#000" stroke-width="0.35">F</text>
<text x="439" y="362.7" font-size="9.7" fill="#111" textLength="15" lengthAdjust="spacingAndGlyphs" stroke="#111" stroke-width="0.4">Years</text>
<polyline points="394.20,249.00 395.20,249.00 395.20,249.54 397.00,249.54 397.00,250.05 397.20,250.05 397.20,250.65 397.40,250.65 397.40,251.25 397.60,251.25 397.60,251.85 397.80,251.85 397.80,252.45 398.23,252.45 398.23,253.33 398.65,253.33 398.65,254.21 399.08,254.21 399.08,255.09 399.51,255.09 399.51,255.97 399.93,255.97 399.93,256.85 400.36,256.85 400.36,257.73 400.79,257.73 400.79,258.61 401.21,258.61 401.21,259.46 401.62,259.46 401.62,260.27 402.03,260.27 402.03,261.08 402.44,261.08 402.44,261.89 402.86,261.89 402.86,262.71 403.27,262.71 403.27,263.52 403.68,263.52 403.68,264.33 404.09,264.33 404.09,265.14 404.50,265.14 404.50,265.88 404.92,265.88 404.92,266.53 405.32,266.53 405.32,267.18 405.74,267.18 405.74,267.82 406.14,267.82 406.14,268.48 406.56,268.48 406.56,269.12 406.96,269.12 406.96,269.78 407.38,269.78 407.38,270.43 407.78,270.43 407.78,271.07 408.19,271.07 408.19,271.73 408.60,271.73 408.60,272.66 408.80,272.66 408.80,273.27 409.00,273.27 409.00,273.89 409.20,273.89 409.20,274.50 409.40,274.50 409.40,275.11 409.60,275.11 409.60,275.73 409.80,275.73 409.80,276.34 410.00,276.34 410.00,276.95 410.20,276.95 410.20,277.98 410.40,277.98 410.40,279.00 410.60,279.00 410.60,280.02 410.80,280.02 410.80,281.05 411.21,281.05 411.21,281.56 411.62,281.56 411.62,282.07 412.04,282.07 412.04,282.59 412.45,282.59 412.45,283.10 412.86,283.10 412.86,283.61 413.28,283.61 413.28,284.12 413.69,284.12 413.69,284.64 414.10,284.64 414.10,285.15 414.72,285.15 414.72,285.88 415.33,285.88 415.33,286.62 415.94,286.62 415.94,287.36 416.56,287.36 416.56,288.09 417.18,288.09 417.18,288.82 417.79,288.82 417.79,289.56 418.40,289.56 418.40,290.17 419.43,290.17 419.43,290.77 420.45,290.77 420.45,291.37 421.48,291.37 421.48,291.97 422.51,291.97 422.51,292.72 422.94,292.72 422.94,293.27 423.37,293.27 423.37,293.82 423.79,293.82 423.79,294.36 424.22,294.36 424.22,294.91 424.65,294.91 424.65,295.46 425.07,295.46 425.07,296.00 425.50,296.00 425.50,296.55 426.50,296.55 426.50,297.05 427.50,297.05 427.50,297.55 428.50,297.55 428.50,298.05 429.50,298.05 429.50,298.55 430.50,298.55 430.50,299.05 431.50,299.05 431.50,299.55 433.35,299.55 433.35,300.06 436.48,300.06 436.48,300.58 438.10,300.58 438.10,301.09 439.50,301.09 439.50,301.60 440.90,301.60 440.90,302.10 442.30,302.10 442.30,302.61 444.11,302.61 444.11,303.12 448.78,303.12 448.78,303.62 452.01,303.62 452.01,304.14 454.63,304.14 454.63,304.64 457.25,304.64 457.25,305.15 459.87,305.15 459.87,305.65 462.49,305.65 462.49,306.16 464.92,306.16 464.92,306.68 467.15,306.68 467.15,307.20 469.39,307.20 469.39,307.71 471.62,307.71 471.62,308.23 473.85,308.23 473.85,308.75 476.09,308.75 476.09,309.26 479.13,309.26 479.13,309.78 482.57,309.78 482.57,310.29 509.20,310.29" fill="none" stroke="#c9173a" stroke-width="1.5" stroke-linejoin="round" stroke-linecap="round"/>
<polyline points="394.20,249.00 394.40,249.00 394.40,249.66 394.80,249.66 394.80,250.48 395.20,250.48 395.20,251.30 395.60,251.30 395.60,252.12 396.00,252.12 396.00,252.94 396.41,252.94 396.41,253.89 396.63,253.89 396.63,254.43 396.84,254.43 396.84,254.97 397.05,254.97 397.05,255.51 397.27,255.51 397.27,256.05 397.48,256.05 397.48,256.59 397.69,256.59 397.69,257.13 397.91,257.13 397.91,257.67 398.12,257.67 398.12,258.21 398.33,258.21 398.33,258.75 398.55,258.75 398.55,259.29 398.76,259.29 398.76,259.83 398.97,259.83 398.97,260.37 399.19,260.37 399.19,260.91 399.40,260.91 399.40,261.45 400.02,261.45 400.02,262.07 400.64,262.07 400.64,262.69 401.26,262.69 401.26,263.31 401.88,263.31 401.88,263.93 402.49,263.93 402.49,264.54 403.11,264.54 403.11,265.29 403.52,265.29 403.52,265.83 403.93,265.83 403.93,266.38 404.33,266.38 404.33,266.92 404.74,266.92 404.74,267.46 405.15,267.46 405.15,268.00 405.56,268.00 405.56,268.54 405.97,268.54 405.97,269.08 406.38,269.08 406.38,269.62 406.78,269.62 406.78,270.17 407.19,270.17 407.19,270.71 407.60,270.71 407.60,271.25 407.87,271.25 407.87,272.35 408.13,272.35 408.13,273.45 408.40,273.45 408.40,274.55 409.01,274.55 409.01,275.29 409.63,275.29 409.63,276.02 410.25,276.02 410.25,276.75 410.86,276.75 410.86,277.49 411.48,277.49 411.48,278.23 412.09,278.23 412.09,278.96 412.70,278.96 412.70,279.62 413.32,279.62 413.32,280.12 413.93,280.12 413.93,280.62 414.54,280.62 414.54,281.12 415.15,281.12 415.15,281.62 415.77,281.62 415.77,282.12 416.38,282.12 416.38,282.62 416.99,282.62 416.99,283.12 417.81,283.12 417.81,283.71 418.62,283.71 418.62,284.22 419.43,284.22 419.43,284.73 420.24,284.73 420.24,285.24 421.06,285.24 421.06,285.76 421.87,285.76 421.87,286.27 422.68,286.27 422.68,286.78 423.49,286.78 423.49,287.29 424.51,287.29 424.51,287.86 425.52,287.86 425.52,288.38 426.54,288.38 426.54,288.89 427.56,288.89 427.56,289.41 428.57,289.41 428.57,289.92 429.59,289.92 429.59,290.44 430.80,290.44 430.80,290.95 433.00,290.95 433.00,291.48 435.20,291.48 435.20,292.01 437.20,292.01 437.20,292.53 438.62,292.53 438.62,293.07 440.05,293.07 440.05,293.62 441.47,293.62 441.47,294.17 442.89,294.17 442.89,294.72 444.72,294.72 444.72,295.23 446.95,295.23 446.95,295.75 449.19,295.75 449.19,296.26 451.20,296.26 451.20,296.76 453.20,296.76 453.20,297.29 455.20,297.29 455.20,297.81 457.20,297.81 457.20,298.34 460.85,298.34 460.85,298.85 465.73,298.85 465.73,299.37 470.40,299.37 470.40,299.87 474.60,299.87 474.60,300.38 478.80,300.38 478.80,300.88 483.00,300.88 483.00,301.38 486.25,301.38 486.25,301.89 489.31,301.89 489.31,302.40 492.36,302.40 492.36,302.91 495.60,302.91 495.60,303.44 499.00,303.44 499.00,303.96 502.40,303.96 502.40,304.49 505.80,304.49 505.80,305.02 509.20,305.02 509.20,305.55 509.20,305.55" fill="none" stroke="#1c5794" stroke-width="1.5" stroke-linejoin="round" stroke-linecap="round"/>
<polyline points="394.50,249.00 394.71,249.00 394.71,249.61 395.12,249.61 395.12,250.32 395.53,250.32 395.53,251.03 395.94,251.03 395.94,251.74 396.36,251.74 396.36,252.46 396.77,252.46 396.77,253.17 397.18,253.17 397.18,253.88 397.59,253.88 397.59,254.59 398.00,254.59 398.00,255.29 398.41,255.29 398.41,255.96 398.82,255.96 398.82,256.64 399.23,256.64 399.23,257.31 399.64,257.31 399.64,257.99 400.05,257.99 400.05,258.66 400.45,258.66 400.45,259.34 400.86,259.34 400.86,260.01 401.27,260.01 401.27,260.69 401.68,260.69 401.68,261.36 402.09,261.36 402.09,262.04 402.50,262.04 402.50,262.71 402.90,262.71 402.90,263.40 403.31,263.40 403.31,264.10 403.72,264.10 403.72,264.80 404.12,264.80 404.12,265.50 404.53,265.50 404.53,266.20 404.94,266.20 404.94,266.90 405.35,266.90 405.35,267.60 405.75,267.60 405.75,268.30 406.16,268.30 406.16,269.00 406.57,269.00 406.57,269.70 406.97,269.70 406.97,270.40 407.38,270.40 407.38,271.10 407.79,271.10 407.79,271.80 408.20,271.80 408.20,272.50 408.60,272.50 408.60,273.06 409.20,273.06 409.20,273.68 409.80,273.68 409.80,274.31 410.40,274.31 410.40,274.93 411.01,274.93 411.01,275.55 411.62,275.55 411.62,276.15 412.24,276.15 412.24,276.75 412.86,276.75 412.86,277.35 413.48,277.35 413.48,277.95 414.10,277.95 414.10,278.55 414.91,278.55 414.91,279.06 415.73,279.06 415.73,279.57 416.54,279.57 416.54,280.09 417.35,280.09 417.35,280.60 418.16,280.60 418.16,281.11 418.98,281.11 418.98,281.62 419.79,281.62 419.79,282.14 420.60,282.14 420.60,282.65 421.43,282.65 421.43,283.16 422.25,283.16 422.25,283.67 423.07,283.67 423.07,284.19 423.90,284.19 423.90,284.70 424.73,284.70 424.73,285.21 425.55,285.21 425.55,285.73 426.38,285.73 426.38,286.24 427.20,286.24 427.20,286.75 428.62,286.75 428.62,287.30 430.04,287.30 430.04,287.84 431.47,287.84 431.47,288.39 432.89,288.39 432.89,288.94 434.11,288.94 434.11,289.45 435.12,289.45 435.12,289.95 436.14,289.95 436.14,290.45 437.15,290.45 437.15,290.95 438.17,290.95 438.17,291.45 439.18,291.45 439.18,291.95 440.20,291.95 440.20,292.45 441.22,292.45 441.22,292.97 442.23,292.97 442.23,293.48 443.25,293.48 443.25,294.00 444.26,294.00 444.26,294.51 445.28,294.51 445.28,295.03 446.29,295.03 446.29,295.54 448.10,295.54 448.10,296.09 450.30,296.09 450.30,296.62 452.50,296.62 452.50,297.16 454.73,297.16 454.73,297.70 456.77,297.70 456.77,298.20 458.81,298.20 458.81,298.70 460.85,298.70 460.85,299.20 462.89,299.20 462.89,299.70 465.94,299.70 465.94,300.21 469.39,300.21 469.39,300.73 472.84,300.73 472.84,301.24 476.29,301.24 476.29,301.76 479.72,301.76 479.72,302.27 483.15,302.27 483.15,302.78 486.57,302.78 486.57,303.28 490.00,303.28 490.00,303.79 492.40,303.79 492.40,304.30 494.80,304.30 494.80,304.83 497.20,304.83 497.20,305.37 499.60,305.37 499.60,305.91 509.20,305.91" fill="none" stroke="#36ad47" stroke-width="1.5" stroke-linejoin="round" stroke-linecap="round"/>
<polyline points="394.50,249.00 394.71,249.00 394.71,249.56 395.12,249.56 395.12,250.17 395.53,250.17 395.53,250.78 395.94,250.78 395.94,251.39 396.36,251.39 396.36,252.01 396.77,252.01 396.77,252.62 397.18,252.62 397.18,253.23 397.59,253.23 397.59,253.84 398.00,253.84 398.00,254.47 398.41,254.47 398.41,255.10 398.82,255.10 398.82,255.74 399.23,255.74 399.23,256.38 399.63,256.38 399.63,257.01 400.04,257.01 400.04,257.65 400.45,257.65 400.45,258.28 400.85,258.28 400.85,258.92 401.26,258.92 401.26,259.55 401.67,259.55 401.67,260.19 402.07,260.19 402.07,260.82 402.48,260.82 402.48,261.46 402.89,261.46 402.89,262.10 403.30,262.10 403.30,262.73 403.70,262.73 403.70,263.43 404.11,263.43 404.11,264.18 404.52,264.18 404.52,264.93 404.93,264.93 404.93,265.68 405.34,265.68 405.34,266.43 405.75,266.43 405.75,267.18 406.15,267.18 406.15,267.93 406.56,267.93 406.56,268.68 406.97,268.68 406.97,269.43 407.38,269.43 407.38,270.18 407.79,270.18 407.79,270.93 408.20,270.93 408.20,271.68 408.60,271.68 408.60,272.46 409.00,272.46 409.00,273.27 409.40,273.27 409.40,274.09 409.80,274.09 409.80,274.91 410.20,274.91 410.20,275.73 410.60,275.73 410.60,276.54 411.01,276.54 411.01,277.08 411.83,277.08 411.83,277.59 412.66,277.59 412.66,278.10 413.48,278.10 413.48,278.62 414.31,278.62 414.31,279.13 415.13,279.13 415.13,279.64 415.96,279.64 415.96,280.15 416.78,280.15 416.78,280.67 417.80,280.67 417.80,281.22 419.22,281.22 419.22,281.79 420.64,281.79 420.64,282.37 422.06,282.37 422.06,282.95 423.48,282.95 423.48,283.53 424.89,283.53 424.89,284.10 426.10,284.10 426.10,284.64 427.30,284.64 427.30,285.22 428.50,285.22 428.50,285.80 429.70,285.80 429.70,286.39 430.90,286.39 430.90,286.97 432.10,286.97 432.10,287.55 433.73,287.55 433.73,288.12 435.37,288.12 435.37,288.68 437.00,288.68 437.00,289.25 438.42,289.25 438.42,289.77 439.84,289.77 439.84,290.30 441.27,290.30 441.27,290.82 442.69,290.82 442.69,291.35 444.52,291.35 444.52,291.88 446.75,291.88 446.75,292.40 448.98,292.40 448.98,292.92 450.80,292.92 450.80,293.49 452.00,293.49 452.00,294.00 453.20,294.00 453.20,294.51 455.42,294.51 455.42,295.03 459.47,295.03 459.47,295.53 462.52,295.53 462.52,296.03 463.76,296.03 463.76,296.59 465.01,296.59 465.01,297.14 466.25,297.14 466.25,297.70 467.50,297.70 467.50,298.25 473.74,298.25 473.74,298.75 479.98,298.75 479.98,299.26 485.21,299.26 485.21,299.78 488.84,299.78 488.84,300.29 492.47,300.29 492.47,300.80 496.09,300.80 496.09,301.31 507.99,301.31 507.99,301.81 509.20,301.81" fill="none" stroke="#5f2781" stroke-width="1.5" stroke-linejoin="round" stroke-linecap="round"/>
<text x="385" y="373.7" font-size="6.2" fill="#24609e" text-anchor="end" textLength="15.7" lengthAdjust="spacingAndGlyphs" stroke="#24609e" stroke-width="0.15">Haplo</text>
<text x="400.2" y="373.70" font-size="6.3" fill="#24609e" text-anchor="end" textLength="11.1" lengthAdjust="spacingAndGlyphs" stroke="#24609e" stroke-width="0.05">179</text>
<text x="449.4" y="373.70" font-size="6.3" fill="#24609e" text-anchor="end" textLength="7.4" lengthAdjust="spacingAndGlyphs" stroke="#24609e" stroke-width="0.05">69</text>
<text x="507" y="373.70" font-size="6.3" fill="#24609e" text-anchor="end" textLength="7.4" lengthAdjust="spacingAndGlyphs" stroke="#24609e" stroke-width="0.05">39</text>
<text x="385" y="385.0" font-size="6.2" fill="#43b84f" text-anchor="end" textLength="30.1" lengthAdjust="spacingAndGlyphs" stroke="#43b84f" stroke-width="0.15">HLA sibling</text>
<text x="400.2" y="385.00" font-size="6.3" fill="#43b84f" text-anchor="end" textLength="11.1" lengthAdjust="spacingAndGlyphs" stroke="#43b84f" stroke-width="0.05">665</text>
<text x="449.4" y="385.00" font-size="6.3" fill="#43b84f" text-anchor="end" textLength="11.1" lengthAdjust="spacingAndGlyphs" stroke="#43b84f" stroke-width="0.05">263</text>
<text x="507" y="385.00" font-size="6.3" fill="#43b84f" text-anchor="end" textLength="11.1" lengthAdjust="spacingAndGlyphs" stroke="#43b84f" stroke-width="0.05">168</text>
<text x="385" y="396.3" font-size="6.2" fill="#cf1f3d" text-anchor="end" textLength="31.5" lengthAdjust="spacingAndGlyphs" stroke="#cf1f3d" stroke-width="0.15">MU no ATG</text>
<text x="400.2" y="396.30" font-size="6.3" fill="#cf1f3d" text-anchor="end" textLength="11.1" lengthAdjust="spacingAndGlyphs" stroke="#cf1f3d" stroke-width="0.05">210</text>
<text x="449.4" y="396.30" font-size="6.3" fill="#cf1f3d" text-anchor="end" textLength="7.4" lengthAdjust="spacingAndGlyphs" stroke="#cf1f3d" stroke-width="0.05">72</text>
<text x="507" y="396.30" font-size="6.3" fill="#cf1f3d" text-anchor="end" textLength="7.4" lengthAdjust="spacingAndGlyphs" stroke="#cf1f3d" stroke-width="0.05">52</text>
<text x="385" y="407.6" font-size="6.2" fill="#6b3388" text-anchor="end" textLength="31.5" lengthAdjust="spacingAndGlyphs" stroke="#6b3388" stroke-width="0.15">MU w/ ATG</text>
<text x="400.2" y="407.60" font-size="6.3" fill="#6b3388" text-anchor="end" textLength="11.1" lengthAdjust="spacingAndGlyphs" stroke="#6b3388" stroke-width="0.05">378</text>
<text x="449.4" y="407.60" font-size="6.3" fill="#6b3388" text-anchor="end" textLength="11.1" lengthAdjust="spacingAndGlyphs" stroke="#6b3388" stroke-width="0.05">162</text>
<text x="507" y="407.60" font-size="6.3" fill="#6b3388" text-anchor="end" textLength="11.1" lengthAdjust="spacingAndGlyphs" stroke="#6b3388" stroke-width="0.05">105</text>
<text transform="translate(26.1,80.6) rotate(-90)" font-size="10.6" fill="#111" stroke="#111" stroke-width="0.15" text-anchor="middle" textLength="70" lengthAdjust="spacingAndGlyphs">Cumulative incidence, %</text>
<text transform="translate(25.7,291.7) rotate(-90)" font-size="10.6" fill="#111" stroke="#111" stroke-width="0.15" text-anchor="middle" textLength="39.6" lengthAdjust="spacingAndGlyphs">Probability, %</text>
<line x1="151.7" y1="419.9" x2="160.9" y2="419.9" stroke="#24609e" stroke-width="1.4"/>
<text x="163" y="422.4" font-size="7.5" fill="#111" textLength="18.25" lengthAdjust="spacingAndGlyphs" stroke="#111" stroke-width="0.1">Haplo</text>
<line x1="192" y1="419.9" x2="201.25" y2="419.9" stroke="#43b84f" stroke-width="1.4"/>
<text x="203.75" y="422.4" font-size="7.5" fill="#111" textLength="34.25" lengthAdjust="spacingAndGlyphs" stroke="#111" stroke-width="0.1">HLA sibling</text>
<line x1="251.25" y1="419.9" x2="260.5" y2="419.9" stroke="#cf1f3d" stroke-width="1.4"/>
<text x="262.5" y="422.4" font-size="7.5" fill="#111" textLength="40.5" lengthAdjust="spacingAndGlyphs" stroke="#111" stroke-width="0.1">MUD no ATG</text>
<line x1="314.5" y1="419.9" x2="323.75" y2="419.9" stroke="#6b3388" stroke-width="1.4"/>
<text x="325.5" y="422.4" font-size="7.5" fill="#111" textLength="40.75" lengthAdjust="spacingAndGlyphs" stroke="#111" stroke-width="0.1">MUD w/ ATG</text>
<rect x="0.5" y="0.5" width="519" height="428" fill="none" stroke="#000" stroke-width="1.2"/>
</svg>
</body></html>
